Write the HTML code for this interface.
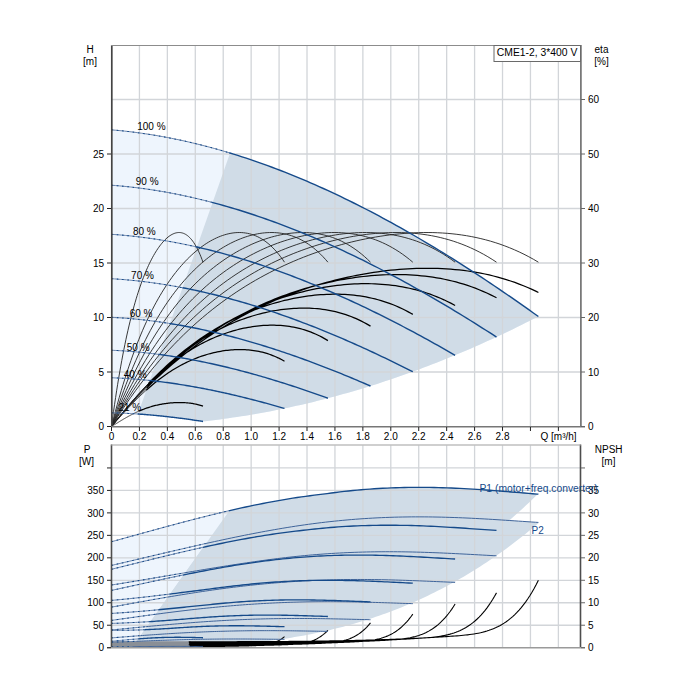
<!DOCTYPE html>
<html><head><meta charset="utf-8"><style>
html,body{margin:0;padding:0;background:#fff;width:700px;height:700px;overflow:hidden;position:relative}
svg text{font-family:"Liberation Sans",sans-serif}
</style></head><body>
<svg width="700" height="700" viewBox="0 0 700 700" style="position:absolute;left:0;top:0">
<rect width="700" height="700" fill="#fff"/>
<path d="M111.50,129.85 L114.37,130.10 L117.23,130.36 L120.10,130.63 L122.96,130.93 L125.83,131.24 L128.69,131.56 L131.56,131.90 L134.42,132.26 L137.29,132.63 L140.15,133.02 L143.02,133.43 L145.88,133.85 L148.75,134.28 L151.61,134.74 L154.48,135.21 L157.34,135.69 L160.21,136.19 L163.07,136.70 L165.94,137.23 L168.80,137.78 L171.67,138.34 L174.53,138.92 L177.40,139.51 L180.26,140.12 L183.13,140.74 L185.99,141.38 L188.86,142.03 L191.72,142.70 L194.59,143.38 L197.45,144.08 L200.32,144.79 L203.18,145.52 L206.05,146.26 L208.91,147.01 L211.78,147.78 L214.64,148.57 L217.51,149.37 L220.37,150.18 L223.24,151.01 L226.10,151.85 L228.97,152.71 L231.83,153.58 L234.70,154.47 L237.56,155.37 L240.43,156.28 L243.29,157.21 L246.16,158.15 L249.02,159.10 L251.89,160.07 L254.76,161.05 L257.62,162.05 L260.49,163.06 L263.35,164.08 L266.22,165.12 L269.08,166.17 L271.95,167.23 L274.81,168.31 L277.68,169.40 L280.54,170.50 L283.41,171.62 L286.27,172.74 L289.14,173.89 L292.00,175.04 L294.87,176.21 L297.73,177.39 L300.60,178.58 L303.46,179.79 L306.33,181.01 L309.19,182.24 L312.06,183.49 L314.92,184.74 L317.79,186.01 L320.65,187.29 L323.52,188.59 L326.38,189.89 L329.25,191.21 L332.11,192.54 L334.98,193.88 L337.84,195.24 L340.71,196.60 L343.57,197.98 L346.44,199.37 L349.30,200.78 L352.17,202.19 L355.03,203.62 L357.90,205.05 L360.76,206.50 L363.63,207.96 L366.49,209.43 L369.36,210.92 L372.22,212.41 L375.09,213.92 L377.95,215.43 L380.82,216.96 L383.68,218.50 L386.55,220.05 L389.41,221.61 L392.28,223.19 L395.14,224.77 L398.01,226.36 L400.88,227.97 L403.74,229.58 L406.61,231.21 L409.47,232.85 L412.34,234.49 L415.20,236.15 L418.07,237.82 L420.93,239.50 L423.80,241.19 L426.66,242.89 L429.53,244.60 L432.39,246.32 L435.26,248.04 L438.12,249.78 L440.99,251.53 L443.85,253.29 L446.72,255.06 L449.58,256.84 L452.45,258.63 L455.31,260.43 L458.18,262.24 L461.04,264.06 L463.91,265.88 L466.77,267.72 L469.64,269.57 L472.50,271.42 L475.37,273.29 L478.23,275.16 L481.10,277.04 L483.96,278.94 L486.83,280.84 L489.69,282.75 L492.56,284.67 L495.42,286.59 L498.29,288.53 L501.15,290.48 L504.02,292.43 L506.88,294.39 L509.75,296.37 L512.61,298.35 L515.48,300.33 L518.34,302.33 L521.21,304.34 L524.07,306.35 L526.94,308.37 L529.80,310.40 L532.67,312.44 L535.53,314.49 L538.40,316.54 L538.40,316.40 L534.15,318.58 L529.91,320.74 L525.66,322.87 L521.42,324.99 L517.17,327.08 L512.93,329.15 L508.68,331.20 L504.44,333.22 L500.19,335.23 L495.94,337.21 L491.70,339.17 L487.45,341.11 L483.21,343.03 L478.96,344.92 L474.72,346.80 L470.47,348.65 L466.23,350.48 L461.98,352.29 L457.73,354.08 L453.49,355.84 L449.24,357.59 L445.00,359.31 L440.75,361.01 L436.51,362.69 L432.26,364.34 L428.02,365.98 L423.77,367.59 L419.52,369.18 L415.28,370.75 L411.03,372.30 L406.79,373.82 L402.54,375.33 L398.30,376.81 L394.05,378.27 L389.81,379.71 L385.56,381.12 L381.31,382.52 L377.07,383.89 L372.82,385.24 L368.58,386.57 L364.33,387.88 L360.09,389.17 L355.84,390.43 L351.59,391.67 L347.35,392.89 L343.10,394.09 L338.86,395.27 L334.61,396.43 L330.37,397.56 L326.12,398.67 L321.88,399.76 L317.63,400.83 L313.38,401.88 L309.14,402.90 L304.89,403.90 L300.65,404.89 L296.40,405.85 L292.16,406.78 L287.91,407.70 L283.67,408.59 L279.42,409.47 L275.17,410.32 L270.93,411.14 L266.68,411.95 L262.44,412.74 L258.19,413.50 L253.95,414.24 L249.70,414.96 L245.46,415.66 L241.21,416.34 L236.96,416.99 L232.72,417.62 L228.47,418.23 L224.23,418.82 L219.98,419.39 L215.74,419.94 L211.49,420.46 L207.25,420.96 L203.00,421.44 L203.00,421.45 L200.65,421.09 L198.31,420.74 L195.96,420.39 L193.62,420.05 L191.27,419.71 L188.92,419.38 L186.58,419.06 L184.23,418.74 L181.88,418.43 L179.54,418.13 L177.19,417.83 L174.85,417.54 L172.50,417.26 L170.15,416.98 L167.81,416.71 L165.46,416.45 L163.12,416.20 L160.77,415.95 L158.42,415.72 L156.08,415.49 L153.73,415.27 L151.38,415.05 L149.04,414.85 L146.69,414.65 L144.35,414.47 L142.00,414.29 L139.65,414.12 L137.31,413.96 L134.96,413.81 L132.62,413.67 L130.27,413.54 L127.92,413.42 L125.58,413.31 L123.23,413.21 L120.88,413.12 L118.54,413.05 L116.19,412.98 L113.85,412.92 L111.50,412.87 Z" fill="#eef5fd"/>
<path d="M230.08,153.05 L232.92,153.92 L235.77,154.80 L238.62,155.70 L241.46,156.61 L244.31,157.54 L247.16,158.48 L250.00,159.43 L252.85,160.40 L255.70,161.38 L258.54,162.37 L261.39,163.38 L264.24,164.40 L267.09,165.43 L269.93,166.48 L272.78,167.54 L275.63,168.62 L278.47,169.70 L281.32,170.80 L284.17,171.91 L287.01,173.04 L289.86,174.18 L292.71,175.33 L295.56,176.49 L298.40,177.67 L301.25,178.86 L304.10,180.06 L306.94,181.27 L309.79,182.50 L312.64,183.74 L315.48,184.99 L318.33,186.25 L321.18,187.53 L324.02,188.82 L326.87,190.12 L329.72,191.43 L332.57,192.75 L335.41,194.09 L338.26,195.44 L341.11,196.80 L343.95,198.17 L346.80,199.55 L349.65,200.94 L352.49,202.35 L355.34,203.77 L358.19,205.20 L361.04,206.64 L363.88,208.09 L366.73,209.55 L369.58,211.03 L372.42,212.51 L375.27,214.01 L378.12,215.52 L380.96,217.04 L383.81,218.57 L386.66,220.11 L389.50,221.66 L392.35,223.22 L395.20,224.80 L398.05,226.38 L400.89,227.98 L403.74,229.58 L406.59,231.20 L409.43,232.82 L412.28,234.46 L415.13,236.11 L417.97,237.77 L420.82,239.43 L423.67,241.11 L426.51,242.80 L429.36,244.50 L432.21,246.21 L435.06,247.92 L437.90,249.65 L440.75,251.39 L443.60,253.14 L446.44,254.89 L449.29,256.66 L452.14,258.44 L454.98,260.22 L457.83,262.02 L460.68,263.82 L463.53,265.64 L466.37,267.46 L469.22,269.30 L472.07,271.14 L474.91,272.99 L477.76,274.85 L480.61,276.72 L483.45,278.60 L486.30,280.49 L489.15,282.38 L491.99,284.29 L494.84,286.20 L497.69,288.13 L500.54,290.06 L503.38,292.00 L506.23,293.95 L509.08,295.90 L511.92,297.87 L514.77,299.84 L517.62,301.82 L520.46,303.82 L523.31,305.81 L526.16,307.82 L529.01,309.84 L531.85,311.86 L534.70,313.89 L537.55,315.93 L538.40,316.54 L538.40,316.40 L534.15,318.58 L529.91,320.74 L525.66,322.87 L521.42,324.99 L517.17,327.08 L512.93,329.15 L508.68,331.20 L504.44,333.22 L500.19,335.23 L495.94,337.21 L491.70,339.17 L487.45,341.11 L483.21,343.03 L478.96,344.92 L474.72,346.80 L470.47,348.65 L466.23,350.48 L461.98,352.29 L457.73,354.08 L453.49,355.84 L449.24,357.59 L445.00,359.31 L440.75,361.01 L436.51,362.69 L432.26,364.34 L428.02,365.98 L423.77,367.59 L419.52,369.18 L415.28,370.75 L411.03,372.30 L406.79,373.82 L402.54,375.33 L398.30,376.81 L394.05,378.27 L389.81,379.71 L385.56,381.12 L381.31,382.52 L377.07,383.89 L372.82,385.24 L368.58,386.57 L364.33,387.88 L360.09,389.17 L355.84,390.43 L351.59,391.67 L347.35,392.89 L343.10,394.09 L338.86,395.27 L334.61,396.43 L330.37,397.56 L326.12,398.67 L321.88,399.76 L317.63,400.83 L313.38,401.88 L309.14,402.90 L304.89,403.90 L300.65,404.89 L296.40,405.85 L292.16,406.78 L287.91,407.70 L283.67,408.59 L279.42,409.47 L275.17,410.32 L270.93,411.14 L266.68,411.95 L262.44,412.74 L258.19,413.50 L253.95,414.24 L249.70,414.96 L245.46,415.66 L241.21,416.34 L236.96,416.99 L232.72,417.62 L228.47,418.23 L224.23,418.82 L219.98,419.39 L215.74,419.94 L211.49,420.46 L207.25,420.96 L203.00,421.44 L203.00,421.45 L199.94,420.98 L196.89,420.53 L193.83,420.08 L190.78,419.64 L187.72,419.22 L184.67,418.80 L181.61,418.40 L178.56,418.00 L175.50,417.62 L172.45,417.25 L169.39,416.89 L166.34,416.55 L163.28,416.22 L160.23,415.90 L157.17,415.59 L154.12,415.30 L151.06,415.02 L148.01,414.76 L144.95,414.51 L141.90,414.28 L137.93,414.00 Z" fill="#d0dce7"/>
<path d="M111.50,541.73 L113.65,541.14 L115.79,540.55 L117.94,539.95 L120.08,539.36 L122.23,538.77 L124.37,538.18 L126.52,537.58 L128.66,536.99 L130.81,536.40 L132.95,535.80 L135.10,535.21 L137.24,534.62 L139.39,534.03 L141.53,533.43 L143.68,532.84 L145.82,532.25 L147.97,531.66 L150.11,531.07 L152.26,530.48 L154.41,529.90 L156.55,529.31 L158.70,528.73 L160.84,528.14 L162.99,527.56 L165.13,526.98 L167.28,526.40 L169.42,525.82 L171.57,525.24 L173.71,524.67 L175.86,524.09 L178.00,523.52 L180.15,522.95 L182.29,522.39 L184.44,521.82 L186.58,521.26 L188.73,520.70 L190.87,520.14 L193.02,519.58 L195.16,519.03 L197.31,518.48 L199.46,517.93 L201.60,517.39 L203.75,516.85 L205.89,516.31 L208.04,515.78 L210.18,515.24 L212.33,514.72 L214.47,514.19 L216.62,513.67 L218.76,513.15 L220.91,512.64 L223.05,512.13 L225.20,511.62 L227.34,511.12 L229.49,510.62 L231.63,510.13 L132.64,646.70 L111.50,646.70 Z" fill="#eef5fd"/>
<path d="M229.49,510.62 L231.63,510.13 L233.78,509.64 L235.92,509.15 L238.07,508.67 L240.21,508.20 L242.36,507.73 L244.50,507.26 L246.65,506.80 L248.80,506.34 L250.94,505.89 L253.09,505.44 L255.23,505.00 L257.38,504.56 L259.52,504.13 L261.67,503.71 L263.81,503.29 L265.96,502.87 L268.10,502.47 L270.25,502.06 L272.39,501.66 L274.54,501.27 L276.68,500.89 L278.83,500.51 L280.97,500.14 L283.12,499.77 L285.26,499.41 L287.41,499.05 L289.55,498.70 L291.70,498.36 L293.84,498.03 L295.99,497.70 L298.14,497.38 L300.28,497.06 L302.43,496.75 L304.57,496.45 L306.72,496.15 L308.86,495.86 L311.01,495.58 L313.15,495.31 L315.30,495.04 L317.44,494.78 L319.59,494.52 L321.73,494.28 L323.88,494.04 L326.02,493.77 L328.17,493.47 L330.31,493.17 L332.46,492.89 L334.60,492.61 L336.75,492.34 L338.89,492.07 L341.04,491.82 L343.18,491.57 L345.33,491.32 L347.48,491.09 L349.62,490.86 L351.77,490.64 L353.91,490.43 L356.06,490.22 L358.20,490.02 L360.35,489.83 L362.49,489.65 L364.64,489.47 L366.78,489.30 L368.93,489.14 L371.07,488.99 L373.22,488.84 L375.36,488.70 L377.51,488.57 L379.65,488.44 L381.80,488.32 L383.94,488.21 L386.09,488.10 L388.23,488.01 L390.38,487.92 L392.52,487.83 L394.67,487.76 L396.82,487.69 L398.96,487.62 L401.11,487.57 L403.25,487.52 L405.40,487.47 L407.54,487.44 L409.69,487.41 L411.83,487.39 L413.98,487.37 L416.12,487.36 L418.27,487.36 L420.41,487.36 L422.56,487.37 L424.70,487.38 L426.85,487.40 L428.99,487.43 L431.14,487.46 L433.28,487.50 L435.43,487.54 L437.57,487.59 L439.72,487.65 L441.87,487.71 L444.01,487.78 L446.16,487.85 L448.30,487.93 L450.45,488.01 L452.59,488.10 L454.74,488.19 L456.88,488.28 L459.03,488.39 L461.17,488.49 L463.32,488.60 L465.46,488.72 L467.61,488.84 L469.75,488.96 L471.90,489.09 L474.04,489.22 L476.19,489.35 L478.33,489.49 L480.48,489.63 L482.62,489.78 L484.77,489.93 L486.91,490.08 L489.06,490.23 L491.21,490.39 L493.35,490.55 L495.50,490.71 L497.64,490.88 L499.79,491.04 L501.93,491.21 L504.08,491.38 L506.22,491.55 L508.37,491.73 L510.51,491.90 L512.66,492.08 L514.80,492.25 L516.95,492.43 L519.09,492.61 L521.24,492.79 L523.38,492.96 L525.53,493.14 L527.67,493.32 L529.82,493.49 L531.96,493.67 L534.11,493.84 L536.25,494.01 L538.40,494.18 L538.40,493.61 L535.32,496.60 L532.23,499.55 L529.15,502.46 L526.07,505.34 L522.98,508.18 L519.90,510.98 L516.82,513.75 L513.73,516.48 L510.65,519.18 L507.57,521.84 L504.48,524.47 L501.40,527.07 L498.32,529.62 L495.24,532.15 L492.15,534.64 L489.07,537.09 L485.99,539.51 L482.90,541.90 L479.82,544.26 L476.74,546.58 L473.65,548.87 L470.57,551.12 L467.49,553.35 L464.40,555.54 L461.32,557.69 L458.24,559.82 L455.15,561.91 L452.07,563.98 L448.99,566.01 L445.90,568.01 L442.82,569.97 L439.74,571.91 L436.65,573.82 L433.57,575.69 L430.49,577.54 L427.41,579.36 L424.32,581.14 L421.24,582.90 L418.16,584.63 L415.07,586.32 L411.99,587.99 L408.91,589.63 L405.82,591.24 L402.74,592.83 L399.66,594.38 L396.57,595.91 L393.49,597.41 L390.41,598.88 L387.32,600.32 L384.24,601.74 L381.16,603.13 L378.07,604.49 L374.99,605.82 L371.91,607.13 L368.82,608.42 L365.74,609.68 L362.66,610.91 L359.57,612.12 L356.49,613.30 L353.41,614.45 L350.33,615.58 L347.24,616.69 L344.16,617.77 L341.08,618.83 L337.99,619.87 L334.91,620.88 L331.83,621.87 L328.74,622.83 L325.66,623.77 L322.58,624.69 L319.49,625.59 L316.41,626.46 L313.33,627.31 L310.24,628.14 L307.16,628.95 L304.08,629.74 L300.99,630.51 L297.91,631.25 L294.83,631.97 L291.74,632.68 L288.66,633.36 L285.58,634.03 L282.49,634.67 L279.41,635.29 L276.33,635.90 L273.25,636.49 L270.16,637.05 L267.08,637.60 L264.00,638.13 L260.91,638.65 L257.83,639.14 L254.75,639.62 L251.66,640.08 L248.58,640.53 L245.50,640.95 L242.41,641.36 L239.33,641.76 L236.25,642.14 L233.16,642.50 L230.08,642.85 L227.00,643.18 L223.91,643.50 L220.83,643.81 L217.75,644.09 L214.66,644.37 L211.58,644.63 L208.50,644.88 L205.42,645.12 L202.33,645.34 L199.25,645.55 L196.17,645.75 L193.08,645.93 L190.00,646.11 L186.92,646.27 L183.83,646.42 L180.75,646.56 L177.67,646.70 L174.58,646.82 L171.50,646.93 L131.93,647.70 Z" fill="#d0dce7"/>
<path d="M205.89,543.50 L208.04,543.02 L210.18,542.55 L212.33,542.07 L214.47,541.60 L216.62,541.14 L218.76,540.67 L220.91,540.21 L223.05,539.75 L225.20,539.29 L227.34,538.83 L229.49,538.38 L231.63,537.93 L233.78,537.49 L235.92,537.04 L238.07,536.60 L240.21,536.16 L242.36,535.73 L244.50,535.30 L246.65,534.87 L248.80,534.45 L250.94,534.03 L253.09,533.61 L255.23,533.20 L257.38,532.79 L259.52,532.38 L261.67,531.98 L263.81,531.58 L265.96,531.19 L268.10,530.80 L270.25,530.41 L272.39,530.03 L274.54,529.65 L276.68,529.28 L278.83,528.91 L280.97,528.54 L283.12,528.18 L285.26,527.83 L287.41,527.47 L289.55,527.13 L291.70,526.79 L293.84,526.45 L295.99,526.13 L298.14,525.80 L300.28,525.48 L302.43,525.17 L304.57,524.86 L306.72,524.56 L308.86,524.26 L311.01,523.97 L313.15,523.69 L315.30,523.41 L317.44,523.13 L319.59,522.86 L321.73,522.60 L323.88,522.35 L326.02,522.09 L328.17,521.85 L330.31,521.61 L332.46,521.38 L334.60,521.15 L336.75,520.93 L338.89,520.71 L341.04,520.50 L343.18,520.30 L345.33,520.10 L347.48,519.91 L349.62,519.72 L351.77,519.54 L353.91,519.37 L356.06,519.20 L358.20,519.04 L360.35,518.88 L362.49,518.73 L364.64,518.59 L366.78,518.45 L368.93,518.32 L371.07,518.19 L373.22,518.07 L375.36,517.96 L377.51,517.85 L379.65,517.75 L381.80,517.65 L383.94,517.56 L386.09,517.47 L388.23,517.39 L390.38,517.32 L392.52,517.25 L394.67,517.19 L396.82,517.13 L398.96,517.08 L401.11,517.03 L403.25,516.99 L405.40,516.96 L407.54,516.93 L409.69,516.91 L411.83,516.89 L413.98,516.87 L416.12,516.87 L418.27,516.86 L420.41,516.86 L422.56,516.87 L424.70,516.88 L426.85,516.90 L428.99,516.92 L431.14,516.95 L433.28,516.98 L435.43,517.02 L437.57,517.06 L439.72,517.10 L441.87,517.15 L444.01,517.21 L446.16,517.27 L448.30,517.33 L450.45,517.39 L452.59,517.47 L454.74,517.54 L456.88,517.62 L459.03,517.70 L461.17,517.79 L463.32,517.88 L465.46,517.97 L467.61,518.07 L469.75,518.17 L471.90,518.27 L474.04,518.38 L476.19,518.49 L478.33,518.60 L480.48,518.72 L482.62,518.84 L484.77,518.96 L486.91,519.08 L489.06,519.21 L491.21,519.34 L493.35,519.47 L495.50,519.60 L497.64,519.74 L499.79,519.87 L501.93,520.01 L504.08,520.15 L506.22,520.29 L508.37,520.43 L510.51,520.57 L512.66,520.72 L514.80,520.86 L516.95,521.00 L519.09,521.15 L521.24,521.29 L523.38,521.44 L525.53,521.58 L527.67,521.73 L529.82,521.87 L531.96,522.01 L534.11,522.15 L536.25,522.29 L538.40,522.43 L538.40,523.26 L535.15,526.00 L531.90,528.70 L528.65,531.36 L525.39,533.97 L522.14,536.55 L518.89,539.10 L515.64,541.60 L512.39,544.06 L509.14,546.49 L505.89,548.88 L502.64,551.23 L499.38,553.55 L496.13,555.83 L492.88,558.07 L489.63,560.27 L486.38,562.44 L483.13,564.58 L479.88,566.67 L476.63,568.74 L473.37,570.77 L470.12,572.76 L466.87,574.72 L463.62,576.65 L460.37,578.54 L457.12,580.40 L453.87,582.22 L450.62,584.02 L447.36,585.78 L444.11,587.51 L440.86,589.20 L437.61,590.87 L434.36,592.50 L431.11,594.10 L427.86,595.67 L424.61,597.21 L421.35,598.72 L418.10,600.21 L414.85,601.66 L411.60,603.08 L408.35,604.47 L405.10,605.83 L401.85,607.17 L398.60,608.47 L395.34,609.75 L392.09,611.00 L388.84,612.23 L385.59,613.42 L382.34,614.59 L379.09,615.74 L375.84,616.85 L372.59,617.95 L369.33,619.01 L366.08,620.05 L362.83,621.07 L359.58,622.06 L356.33,623.02 L353.08,623.96 L349.83,624.88 L346.58,625.78 L343.32,626.65 L340.07,627.49 L336.82,628.32 L333.57,629.12 L330.32,629.90 L327.07,630.66 L323.82,631.40 L320.57,632.11 L317.31,632.81 L314.06,633.48 L310.81,634.14 L307.56,634.77 L304.31,635.39 L301.06,635.98 L297.81,636.56 L294.56,637.11 L291.30,637.65 L288.05,638.17 L284.80,638.67 L281.55,639.16 L278.30,639.62 L275.05,640.07 L271.80,640.50 L268.55,640.92 L265.29,641.32 L262.04,641.71 L258.79,642.08 L255.54,642.43 L252.29,642.77 L249.04,643.09 L245.79,643.40 L242.54,643.70 L239.28,643.98 L236.03,644.25 L232.78,644.50 L229.53,644.75 L226.28,644.98 L223.03,645.20 L219.78,645.40 L216.53,645.60 L213.27,645.78 L210.02,645.95 L206.77,646.12 L203.52,646.27 L200.27,646.41 L197.02,646.54 L193.77,646.67 L190.52,646.78 L187.26,646.89 L184.01,646.98 L180.76,647.07 L177.51,647.16 L174.26,647.23 L171.01,647.30 L167.76,647.36 L164.51,647.41 L161.25,647.46 L158.00,647.50 L154.75,647.54 L151.50,647.57 L131.93,647.70 Z" fill="#d0dce7"/>
<path d="M139.43,46 V426 M139.43,445.5 V647 M167.36,46 V426 M167.36,445.5 V647 M195.29,46 V426 M195.29,445.5 V647 M223.22,46 V426 M223.22,445.5 V647 M251.15,46 V426 M251.15,445.5 V647 M279.08,46 V426 M279.08,445.5 V647 M307.01,46 V426 M307.01,445.5 V647 M334.94,46 V426 M334.94,445.5 V647 M362.87,46 V426 M362.87,445.5 V647 M390.80,46 V426 M390.80,445.5 V647 M418.73,46 V426 M418.73,445.5 V647 M446.66,46 V426 M446.66,445.5 V647 M474.59,46 V426 M474.59,445.5 V647 M502.52,46 V426 M502.52,445.5 V647 M530.45,46 V426 M530.45,445.5 V647 M558.38,46 V426 M558.38,445.5 V647 M112,372.00 H580 M112,317.50 H580 M112,263.00 H580 M112,208.50 H580 M112,154.00 H580 M112,99.50 H580 M112,625.23 H580 M112,602.76 H580 M112,580.29 H580 M112,557.82 H580 M112,535.35 H580 M112,512.88 H580 M112,490.41 H580 M112,467.94 H580" stroke="#d2d5d9" stroke-width="1.3" fill="none"/>
<path d="M111.50,426.50 L116.30,418.87 L121.09,411.48 L125.89,404.34 L130.69,397.42 L135.48,390.74 L140.28,384.28 L145.08,378.03 L149.87,371.98 L154.67,366.14 L159.47,360.50 L164.26,355.04 L169.06,349.76 L173.86,344.67 L178.65,339.74 L183.45,334.98 L188.25,330.38 L193.04,325.94 L197.84,321.65 L202.64,317.50 L207.43,313.50 L212.23,309.64 L217.03,305.90 L221.82,302.30 L226.62,298.82 L231.42,295.46 L236.21,292.21 L241.01,289.08 L245.81,286.06 L250.60,283.15 L255.40,280.34 L260.20,277.63 L264.99,275.01 L269.79,272.49 L274.59,270.06 L279.38,267.72 L284.18,265.47 L288.98,263.30 L293.77,261.21 L298.57,259.20 L303.37,257.28 L308.16,255.43 L312.96,253.65 L317.76,251.95 L322.55,250.33 L327.35,248.77 L332.14,247.29 L336.94,245.88 L341.74,244.53 L346.53,243.26 L351.33,242.06 L356.13,240.92 L360.92,239.85 L365.72,238.86 L370.52,237.93 L375.31,237.07 L380.11,236.29 L384.91,235.57 L389.70,234.93 L394.50,234.36 L399.30,233.86 L404.09,233.44 L408.89,233.10 L413.69,232.83 L418.48,232.65 L423.28,232.54 L428.08,232.52 L432.87,232.59 L437.67,232.75 L442.47,233.00 L447.26,233.34 L452.06,233.78 L456.86,234.32 L461.65,234.96 L466.45,235.70 L471.25,236.56 L476.04,237.52 L480.84,238.61 L485.64,239.81 L490.43,241.14 L495.23,242.60 L500.03,244.18 L504.82,245.91 L509.62,247.77 L514.42,249.79 L519.21,251.95 L524.01,254.26 L528.81,256.74 L533.60,259.39 L538.40,262.20 M111.50,426.50 L113.64,423.93 L115.78,421.39 L117.92,418.87 L120.06,416.39 L122.20,413.93 L124.34,411.50 L126.48,409.11 L128.62,406.73 L130.76,404.39 L132.90,402.08 L135.04,399.79 L137.18,397.53 L139.32,395.30 L141.46,393.09 L143.60,390.92 L145.74,388.76 L147.88,386.64 M111.50,426.50 L115.83,418.87 L120.15,411.48 L124.48,404.34 L128.80,397.42 L133.13,390.74 L137.46,384.28 L141.78,378.03 L146.11,371.98 L150.43,366.14 L154.76,360.50 L159.08,355.04 L163.41,349.76 L167.74,344.67 L172.06,339.74 L176.39,334.98 L180.71,330.38 L185.04,325.94 L189.37,321.65 L193.69,317.50 L198.02,313.50 L202.34,309.64 L206.67,305.90 L210.99,302.30 L215.32,298.82 L219.65,295.46 L223.97,292.21 L228.30,289.08 L232.62,286.06 L236.95,283.15 L241.28,280.34 L245.60,277.63 L249.93,275.01 L254.25,272.49 L258.58,270.06 L262.90,267.72 L267.23,265.47 L271.56,263.30 L275.88,261.21 L280.21,259.20 L284.53,257.28 L288.86,255.43 L293.19,253.65 L297.51,251.95 L301.84,250.33 L306.16,248.77 L310.49,247.29 L314.81,245.88 L319.14,244.53 L323.47,243.26 L327.79,242.06 L332.12,240.92 L336.44,239.85 L340.77,238.86 L345.10,237.93 L349.42,237.07 L353.75,236.29 L358.07,235.57 L362.40,234.93 L366.72,234.36 L371.05,233.86 L375.38,233.44 L379.70,233.10 L384.03,232.83 L388.35,232.65 L392.68,232.54 L397.01,232.52 L401.33,232.59 L405.66,232.75 L409.98,233.00 L414.31,233.34 L418.63,233.78 L422.96,234.32 L427.29,234.96 L431.61,235.70 L435.94,236.56 L440.26,237.52 L444.59,238.61 L448.92,239.81 L453.24,241.14 L457.57,242.60 L461.89,244.18 L466.22,245.91 L470.54,247.77 L474.87,249.79 L479.20,251.95 L483.52,254.26 L487.85,256.74 L492.17,259.39 L496.50,262.20 M111.50,426.50 L113.43,424.12 L115.36,421.76 L117.29,419.42 L119.22,417.11 L121.15,414.83 L123.08,412.56 L125.01,410.32 L126.94,408.11 L128.87,405.91 L130.80,403.74 L132.73,401.60 L134.66,399.47 L136.59,397.37 L138.52,395.30 L140.45,393.24 L142.38,391.21 L144.31,389.20 L146.24,387.22 L148.17,385.25 M111.50,426.50 L115.36,418.87 L119.22,411.48 L123.08,404.34 L126.94,397.42 L130.80,390.74 L134.66,384.28 L138.52,378.03 L142.39,371.98 L146.25,366.14 L150.11,360.50 L153.97,355.04 L157.83,349.76 L161.69,344.67 L165.55,339.74 L169.41,334.98 L173.27,330.38 L177.13,325.94 L180.99,321.65 L184.85,317.50 L188.71,313.50 L192.57,309.64 L196.43,305.90 L200.30,302.30 L204.16,298.82 L208.02,295.46 L211.88,292.21 L215.74,289.08 L219.60,286.06 L223.46,283.15 L227.32,280.34 L231.18,277.63 L235.04,275.01 L238.90,272.49 L242.76,270.06 L246.62,267.72 L250.48,265.47 L254.34,263.30 L258.21,261.21 L262.07,259.20 L265.93,257.28 L269.79,255.43 L273.65,253.65 L277.51,251.95 L281.37,250.33 L285.23,248.77 L289.09,247.29 L292.95,245.88 L296.81,244.53 L300.67,243.26 L304.53,242.06 L308.39,240.92 L312.26,239.85 L316.12,238.86 L319.98,237.93 L323.84,237.07 L327.70,236.29 L331.56,235.57 L335.42,234.93 L339.28,234.36 L343.14,233.86 L347.00,233.44 L350.86,233.10 L354.72,232.83 L358.58,232.65 L362.44,232.54 L366.30,232.52 L370.17,232.59 L374.03,232.75 L377.89,233.00 L381.75,233.34 L385.61,233.78 L389.47,234.32 L393.33,234.96 L397.19,235.70 L401.05,236.56 L404.91,237.52 L408.77,238.61 L412.63,239.81 L416.49,241.14 L420.35,242.60 L424.21,244.18 L428.08,245.91 L431.94,247.77 L435.80,249.79 L439.66,251.95 L443.52,254.26 L447.38,256.74 L451.24,259.39 L455.10,262.20 M111.50,426.50 L113.22,424.34 L114.94,422.20 L116.67,420.08 L118.39,417.98 L120.11,415.89 L121.83,413.83 L123.56,411.78 L125.28,409.75 L127.00,407.74 L128.72,405.75 L130.45,403.78 L132.17,401.83 L133.89,399.89 L135.61,397.98 L137.33,396.08 L139.06,394.20 L140.78,392.34 L142.50,390.50 L144.22,388.68 L145.95,386.88 L147.67,385.10 M111.50,426.50 L114.89,418.87 L118.27,411.48 L121.66,404.34 L125.04,397.42 L128.43,390.74 L131.81,384.28 L135.20,378.03 L138.58,371.98 L141.97,366.14 L145.35,360.50 L148.74,355.04 L152.12,349.76 L155.51,344.67 L158.90,339.74 L162.28,334.98 L165.67,330.38 L169.05,325.94 L172.44,321.65 L175.82,317.50 L179.21,313.50 L182.59,309.64 L185.98,305.90 L189.36,302.30 L192.75,298.82 L196.13,295.46 L199.52,292.21 L202.91,289.08 L206.29,286.06 L209.68,283.15 L213.06,280.34 L216.45,277.63 L219.83,275.01 L223.22,272.49 L226.60,270.06 L229.99,267.72 L233.37,265.47 L236.76,263.30 L240.14,261.21 L243.53,259.20 L246.92,257.28 L250.30,255.43 L253.69,253.65 L257.07,251.95 L260.46,250.33 L263.84,248.77 L267.23,247.29 L270.61,245.88 L274.00,244.53 L277.38,243.26 L280.77,242.06 L284.16,240.92 L287.54,239.85 L290.93,238.86 L294.31,237.93 L297.70,237.07 L301.08,236.29 L304.47,235.57 L307.85,234.93 L311.24,234.36 L314.62,233.86 L318.01,233.44 L321.39,233.10 L324.78,232.83 L328.17,232.65 L331.55,232.54 L334.94,232.52 L338.32,232.59 L341.71,232.75 L345.09,233.00 L348.48,233.34 L351.86,233.78 L355.25,234.32 L358.63,234.96 L362.02,235.70 L365.40,236.56 L368.79,237.52 L372.18,238.61 L375.56,239.81 L378.95,241.14 L382.33,242.60 L385.72,244.18 L389.10,245.91 L392.49,247.77 L395.87,249.79 L399.26,251.95 L402.64,254.26 L406.03,256.74 L409.41,259.39 L412.80,262.20 M111.50,426.50 L113.01,424.58 L114.52,422.67 L116.03,420.77 L117.54,418.89 L119.05,417.02 L120.56,415.16 L122.07,413.32 L123.58,411.50 L125.09,409.68 L126.60,407.89 L128.11,406.10 L129.62,404.33 L131.13,402.58 L132.64,400.84 L134.15,399.12 L135.66,397.41 L137.17,395.71 L138.68,394.03 L140.20,392.37 L141.71,390.72 L143.22,389.09 L144.73,387.47 L146.24,385.87 L147.75,384.29 L149.26,382.72 M111.50,426.50 L114.41,418.87 L117.32,411.48 L120.23,404.34 L123.14,397.42 L126.05,390.74 L128.96,384.28 L131.87,378.03 L134.78,371.98 L137.69,366.14 L140.60,360.50 L143.51,355.04 L146.42,349.76 L149.33,344.67 L152.24,339.74 L155.15,334.98 L158.06,330.38 L160.97,325.94 L163.88,321.65 L166.79,317.50 L169.70,313.50 L172.61,309.64 L175.52,305.90 L178.43,302.30 L181.34,298.82 L184.25,295.46 L187.16,292.21 L190.07,289.08 L192.98,286.06 L195.89,283.15 L198.80,280.34 L201.71,277.63 L204.62,275.01 L207.53,272.49 L210.44,270.06 L213.35,267.72 L216.26,265.47 L219.17,263.30 L222.08,261.21 L224.99,259.20 L227.90,257.28 L230.81,255.43 L233.72,253.65 L236.63,251.95 L239.54,250.33 L242.46,248.77 L245.37,247.29 L248.28,245.88 L251.19,244.53 L254.10,243.26 L257.01,242.06 L259.92,240.92 L262.83,239.85 L265.74,238.86 L268.65,237.93 L271.56,237.07 L274.47,236.29 L277.38,235.57 L280.29,234.93 L283.20,234.36 L286.11,233.86 L289.02,233.44 L291.93,233.10 L294.84,232.83 L297.75,232.65 L300.66,232.54 L303.57,232.52 L306.48,232.59 L309.39,232.75 L312.30,233.00 L315.21,233.34 L318.12,233.78 L321.03,234.32 L323.94,234.96 L326.85,235.70 L329.76,236.56 L332.67,237.52 L335.58,238.61 L338.49,239.81 L341.40,241.14 L344.31,242.60 L347.22,244.18 L350.13,245.91 L353.04,247.77 L355.95,249.79 L358.86,251.95 L361.77,254.26 L364.68,256.74 L367.59,259.39 L370.50,262.20 M111.50,426.50 L112.80,424.85 L114.10,423.20 L115.39,421.57 L116.69,419.94 L117.99,418.33 L119.29,416.72 L120.59,415.12 L121.89,413.53 L123.18,411.95 L124.48,410.39 L125.78,408.83 L127.08,407.28 L128.38,405.75 L129.68,404.22 L130.97,402.71 L132.27,401.21 L133.57,399.71 L134.87,398.24 L136.17,396.77 L137.46,395.31 L138.76,393.87 L140.06,392.44 L141.36,391.02 L142.66,389.61 L143.96,388.22 L145.25,386.84 L146.55,385.47 L147.85,384.11 L149.15,382.77 M111.50,426.50 L113.93,418.87 L116.36,411.48 L118.79,404.34 L121.23,397.42 L123.66,390.74 L126.09,384.28 L128.52,378.03 L130.95,371.98 L133.38,366.14 L135.81,360.50 L138.25,355.04 L140.68,349.76 L143.11,344.67 L145.54,339.74 L147.97,334.98 L150.40,330.38 L152.83,325.94 L155.27,321.65 L157.70,317.50 L160.13,313.50 L162.56,309.64 L164.99,305.90 L167.42,302.30 L169.86,298.82 L172.29,295.46 L174.72,292.21 L177.15,289.08 L179.58,286.06 L182.01,283.15 L184.44,280.34 L186.88,277.63 L189.31,275.01 L191.74,272.49 L194.17,270.06 L196.60,267.72 L199.03,265.47 L201.46,263.30 L203.90,261.21 L206.33,259.20 L208.76,257.28 L211.19,255.43 L213.62,253.65 L216.05,251.95 L218.48,250.33 L220.92,248.77 L223.35,247.29 L225.78,245.88 L228.21,244.53 L230.64,243.26 L233.07,242.06 L235.50,240.92 L237.94,239.85 L240.37,238.86 L242.80,237.93 L245.23,237.07 L247.66,236.29 L250.09,235.57 L252.52,234.93 L254.96,234.36 L257.39,233.86 L259.82,233.44 L262.25,233.10 L264.68,232.83 L267.11,232.65 L269.54,232.54 L271.98,232.52 L274.41,232.59 L276.84,232.75 L279.27,233.00 L281.70,233.34 L284.13,233.78 L286.57,234.32 L289.00,234.96 L291.43,235.70 L293.86,236.56 L296.29,237.52 L298.72,238.61 L301.15,239.81 L303.59,241.14 L306.02,242.60 L308.45,244.18 L310.88,245.91 L313.31,247.77 L315.74,249.79 L318.17,251.95 L320.61,254.26 L323.04,256.74 L325.47,259.39 L327.90,262.20 M111.50,426.50 L112.58,425.15 L113.67,423.80 L114.75,422.45 L115.84,421.11 L116.92,419.77 L118.01,418.44 L119.09,417.12 L120.18,415.80 L121.26,414.49 L122.35,413.18 L123.43,411.88 L124.52,410.59 L125.60,409.31 L126.69,408.03 L127.77,406.76 L128.86,405.50 L129.94,404.24 L131.02,403.00 L132.11,401.76 L133.19,400.53 L134.28,399.31 L135.36,398.10 L136.45,396.90 L137.53,395.71 L138.62,394.52 L139.70,393.35 L140.79,392.18 L141.87,391.03 L142.96,389.88 L144.04,388.75 L145.13,387.62 L146.21,386.51 L147.30,385.40 L148.38,384.31 M111.50,426.50 L113.44,418.87 L115.39,411.48 L117.33,404.34 L119.28,397.42 L121.22,390.74 L123.16,384.28 L125.11,378.03 L127.05,371.98 L128.99,366.14 L130.94,360.50 L132.88,355.04 L134.83,349.76 L136.77,344.67 L138.71,339.74 L140.66,334.98 L142.60,330.38 L144.54,325.94 L146.49,321.65 L148.43,317.50 L150.38,313.50 L152.32,309.64 L154.26,305.90 L156.21,302.30 L158.15,298.82 L160.10,295.46 L162.04,292.21 L163.98,289.08 L165.93,286.06 L167.87,283.15 L169.81,280.34 L171.76,277.63 L173.70,275.01 L175.65,272.49 L177.59,270.06 L179.53,267.72 L181.48,265.47 L183.42,263.30 L185.37,261.21 L187.31,259.20 L189.25,257.28 L191.20,255.43 L193.14,253.65 L195.08,251.95 L197.03,250.33 L198.97,248.77 L200.92,247.29 L202.86,245.88 L204.80,244.53 L206.75,243.26 L208.69,242.06 L210.63,240.92 L212.58,239.85 L214.52,238.86 L216.47,237.93 L218.41,237.07 L220.35,236.29 L222.30,235.57 L224.24,234.93 L226.19,234.36 L228.13,233.86 L230.07,233.44 L232.02,233.10 L233.96,232.83 L235.90,232.65 L237.85,232.54 L239.79,232.52 L241.74,232.59 L243.68,232.75 L245.62,233.00 L247.57,233.34 L249.51,233.78 L251.46,234.32 L253.40,234.96 L255.34,235.70 L257.29,236.56 L259.23,237.52 L261.17,238.61 L263.12,239.81 L265.06,241.14 L267.01,242.60 L268.95,244.18 L270.89,245.91 L272.84,247.77 L274.78,249.79 L276.72,251.95 L278.67,254.26 L280.61,256.74 L282.56,259.39 L284.50,262.20 M111.50,426.50 L112.37,425.52 L113.23,424.54 L114.10,423.56 L114.97,422.58 L115.84,421.60 L116.70,420.62 L117.57,419.65 L118.44,418.68 L119.30,417.71 L120.17,416.75 L121.04,415.79 L121.91,414.83 L122.77,413.88 L123.64,412.93 L124.51,411.99 L125.37,411.05 L126.24,410.11 L127.11,409.18 L127.98,408.26 L128.84,407.34 L129.71,406.42 L130.58,405.51 L131.44,404.61 L132.31,403.71 L133.18,402.82 L134.05,401.93 L134.91,401.06 L135.78,400.18 L136.65,399.32 L137.52,398.46 L138.38,397.61 L139.25,396.76 L140.12,395.92 L140.98,395.09 L141.85,394.27 L142.72,393.45 L143.59,392.64 L144.45,391.84 L145.32,391.04 L146.19,390.26 M111.50,426.50 L112.53,418.87 L113.56,411.48 L114.58,404.34 L115.61,397.42 L116.64,390.74 L117.67,384.28 L118.70,378.03 L119.72,371.98 L120.75,366.14 L121.78,360.50 L122.81,355.04 L123.84,349.76 L124.87,344.67 L125.89,339.74 L126.92,334.98 L127.95,330.38 L128.98,325.94 L130.01,321.65 L131.03,317.50 L132.06,313.50 L133.09,309.64 L134.12,305.90 L135.15,302.30 L136.17,298.82 L137.20,295.46 L138.23,292.21 L139.26,289.08 L140.29,286.06 L141.31,283.15 L142.34,280.34 L143.37,277.63 L144.40,275.01 L145.43,272.49 L146.46,270.06 L147.48,267.72 L148.51,265.47 L149.54,263.30 L150.57,261.21 L151.60,259.20 L152.62,257.28 L153.65,255.43 L154.68,253.65 L155.71,251.95 L156.74,250.33 L157.76,248.77 L158.79,247.29 L159.82,245.88 L160.85,244.53 L161.88,243.26 L162.90,242.06 L163.93,240.92 L164.96,239.85 L165.99,238.86 L167.02,237.93 L168.04,237.07 L169.07,236.29 L170.10,235.57 L171.13,234.93 L172.16,234.36 L173.19,233.86 L174.21,233.44 L175.24,233.10 L176.27,232.83 L177.30,232.65 L178.33,232.54 L179.35,232.52 L180.38,232.59 L181.41,232.75 L182.44,233.00 L183.47,233.34 L184.49,233.78 L185.52,234.32 L186.55,234.96 L187.58,235.70 L188.61,236.56 L189.63,237.52 L190.66,238.61 L191.69,239.81 L192.72,241.14 L193.75,242.60 L194.78,244.18 L195.80,245.91 L196.83,247.77 L197.86,249.79 L198.89,251.95 L199.92,254.26 L200.94,256.74 L201.97,259.39 L203.00,262.20 M111.50,426.50 L111.96,426.22 L112.42,425.94 L112.88,425.66 L113.33,425.38 L113.79,425.09 L114.25,424.81 L114.71,424.53 L115.17,424.24 L115.63,423.96 L116.09,423.67 L116.55,423.39 L117.00,423.11 L117.46,422.82 L117.92,422.54 L118.38,422.26 L118.84,421.97 L119.30,421.69 L119.76,421.41 L120.21,421.13 L120.67,420.85 L121.13,420.57 L121.59,420.30 L122.05,420.02 L122.51,419.75 L122.97,419.47 L123.42,419.20 L123.88,418.93 L124.34,418.66 L124.80,418.39 L125.26,418.13 L125.72,417.86 L126.18,417.60 L126.64,417.34 L127.09,417.08 L127.55,416.82 L128.01,416.57 L128.47,416.31 L128.93,416.06 L129.39,415.81 L129.85,415.56 L130.30,415.32 L130.76,415.08 L131.22,414.83 L131.68,414.60 L132.14,414.36 L132.60,414.12 L133.06,413.89 L133.52,413.66 L133.97,413.43 L134.43,413.21 L134.89,412.99 L135.35,412.77 L135.81,412.55 L136.27,412.33 L136.73,412.12 L137.18,411.91 L137.64,411.70 L138.10,411.49 L138.56,411.29 L139.02,411.09" stroke="#222" stroke-width="0.9" fill="none"/>
<path d="M146.81,387.70 146.81,387.70 L151.09,383.50 L155.37,379.41 L159.65,375.42 L163.93,371.52 L168.21,367.73 L172.49,364.04 L176.77,360.44 L181.05,356.93 L185.32,353.52 L189.60,350.19 L193.88,346.96 L198.16,343.81 L202.44,340.75 L206.72,337.77 L211.00,334.87 L215.28,332.06 L219.56,329.32 L223.84,326.66 L228.12,324.08 L232.40,321.57 L236.68,319.13 L240.96,316.76 L245.24,314.46 L249.52,312.24 L253.80,310.07 L258.08,307.98 L262.36,305.95 L266.64,303.98 L270.92,302.07 L275.20,300.22 L279.48,298.44 L283.76,296.71 L288.04,295.03 L292.32,293.42 L296.60,291.86 L300.88,290.35 L305.16,288.90 L309.44,287.49 L313.72,286.15 L318.00,284.85 L322.28,283.60 L326.55,282.40 L330.83,281.25 L335.11,280.16 L339.39,279.10 L343.67,278.10 L347.95,277.15 L352.23,276.24 L356.51,275.38 L360.79,274.57 L365.07,273.81 L369.35,273.09 L373.63,272.42 L377.91,271.80 L382.19,271.23 L386.47,270.70 L390.75,270.23 L395.03,269.80 L399.31,269.43 L403.59,269.10 L407.87,268.83 L412.15,268.61 L416.43,268.44 L420.71,268.33 L424.99,268.27 L429.27,268.27 L433.55,268.32 L437.83,268.44 L442.11,268.61 L446.39,268.84 L450.67,269.14 L454.95,269.51 L459.23,269.94 L463.51,270.43 L467.78,271.00 L472.06,271.64 L476.34,272.36 L480.62,273.14 L484.90,274.01 L489.18,274.96 L493.46,275.99 L497.74,277.10 L502.02,278.31 L506.30,279.60 L510.58,280.98 L514.86,282.46 L519.14,284.04 L523.42,285.72 L527.70,287.50 L531.98,289.39 L536.26,291.39 L538.40,292.44 M147.20,386.23 147.20,386.23 L151.06,382.35 L154.92,378.56 L158.78,374.85 L162.64,371.24 L166.50,367.71 L170.36,364.26 L174.22,360.90 L178.08,357.62 L181.94,354.42 L185.80,351.31 L189.66,348.27 L193.52,345.31 L197.38,342.43 L201.24,339.63 L205.10,336.90 L208.96,334.24 L212.82,331.66 L216.68,329.14 L220.54,326.70 L224.39,324.33 L228.25,322.02 L232.11,319.78 L235.97,317.60 L239.83,315.49 L243.69,313.45 L247.55,311.46 L251.41,309.53 L255.27,307.67 L259.13,305.86 L262.99,304.11 L266.85,302.42 L270.71,300.78 L274.57,299.20 L278.43,297.67 L282.29,296.19 L286.15,294.77 L290.01,293.40 L293.87,292.07 L297.73,290.80 L301.59,289.58 L305.45,288.41 L309.31,287.29 L313.17,286.21 L317.03,285.18 L320.89,284.20 L324.75,283.27 L328.61,282.38 L332.46,281.54 L336.32,280.75 L340.18,280.00 L344.04,279.30 L347.90,278.65 L351.76,278.04 L355.62,277.48 L359.48,276.97 L363.34,276.50 L367.20,276.09 L371.06,275.72 L374.92,275.40 L378.78,275.14 L382.64,274.92 L386.50,274.75 L390.36,274.64 L394.22,274.58 L398.08,274.58 L401.94,274.63 L405.80,274.74 L409.66,274.90 L413.52,275.13 L417.38,275.41 L421.24,275.76 L425.10,276.17 L428.96,276.65 L432.82,277.19 L436.68,277.81 L440.54,278.49 L444.39,279.25 L448.25,280.08 L452.11,280.99 L455.97,281.98 L459.83,283.05 L463.69,284.20 L467.55,285.44 L471.41,286.77 L475.27,288.20 L479.13,289.71 L482.99,291.32 L486.85,293.04 L490.71,294.85 L494.57,296.77 L496.50,297.77 M147.67,385.10 147.67,385.10 L151.11,381.59 L154.56,378.16 L158.00,374.80 L161.45,371.51 L164.89,368.30 L168.34,365.16 L171.78,362.10 L175.23,359.11 L178.67,356.18 L182.11,353.33 L185.56,350.55 L189.00,347.84 L192.45,345.20 L195.89,342.63 L199.34,340.12 L202.78,337.68 L206.23,335.31 L209.67,333.00 L213.12,330.75 L216.56,328.56 L220.01,326.44 L223.45,324.38 L226.89,322.37 L230.34,320.43 L233.78,318.54 L237.23,316.72 L240.67,314.94 L244.12,313.23 L247.56,311.56 L251.01,309.95 L254.45,308.40 L257.90,306.89 L261.34,305.44 L264.79,304.04 L268.23,302.69 L271.67,301.39 L275.12,300.13 L278.56,298.93 L282.01,297.77 L285.45,296.65 L288.90,295.59 L292.34,294.57 L295.79,293.60 L299.23,292.67 L302.68,291.79 L306.12,290.95 L309.57,290.16 L313.01,289.41 L316.45,288.71 L319.90,288.05 L323.34,287.44 L326.79,286.87 L330.23,286.34 L333.68,285.87 L337.12,285.43 L340.57,285.05 L344.01,284.71 L347.46,284.42 L350.90,284.17 L354.35,283.98 L357.79,283.83 L361.23,283.73 L364.68,283.69 L368.12,283.69 L371.57,283.75 L375.01,283.86 L378.46,284.03 L381.90,284.26 L385.35,284.54 L388.79,284.88 L392.24,285.28 L395.68,285.74 L399.13,286.27 L402.57,286.86 L406.01,287.52 L409.46,288.25 L412.90,289.05 L416.35,289.93 L419.79,290.88 L423.24,291.90 L426.68,293.01 L430.13,294.19 L433.57,295.47 L437.02,296.82 L440.46,298.27 L443.91,299.81 L447.35,301.44 L450.79,303.17 L454.24,305.00 L455.10,305.48 M148.50,383.50 148.50,383.50 L151.52,380.39 L154.54,377.35 L157.56,374.36 L160.58,371.44 L163.60,368.59 L166.63,365.79 L169.65,363.06 L172.67,360.39 L175.69,357.79 L178.71,355.24 L181.73,352.76 L184.75,350.33 L187.77,347.97 L190.79,345.67 L193.81,343.42 L196.83,341.24 L199.85,339.11 L202.87,337.04 L205.89,335.03 L208.91,333.08 L211.93,331.18 L214.95,329.33 L217.97,327.54 L220.99,325.80 L224.02,324.11 L227.04,322.48 L230.06,320.90 L233.08,319.37 L236.10,317.88 L239.12,316.45 L242.14,315.07 L245.16,313.73 L248.18,312.44 L251.20,311.20 L254.22,310.00 L257.24,308.85 L260.26,307.75 L263.28,306.69 L266.30,305.67 L269.32,304.70 L272.34,303.77 L275.36,302.88 L278.39,302.04 L281.41,301.24 L284.43,300.48 L287.45,299.77 L290.47,299.09 L293.49,298.46 L296.51,297.88 L299.53,297.33 L302.55,296.83 L305.57,296.36 L308.59,295.95 L311.61,295.57 L314.63,295.24 L317.65,294.95 L320.67,294.71 L323.69,294.52 L326.71,294.36 L329.73,294.26 L332.76,294.20 L335.78,294.19 L338.80,294.23 L341.82,294.32 L344.84,294.46 L347.86,294.66 L350.88,294.90 L353.90,295.20 L356.92,295.56 L359.94,295.98 L362.96,296.45 L365.98,296.98 L369.00,297.58 L372.02,298.24 L375.04,298.96 L378.06,299.75 L381.08,300.61 L384.10,301.55 L387.13,302.55 L390.15,303.63 L393.17,304.79 L396.19,306.03 L399.21,307.35 L402.23,308.75 L405.25,310.25 L408.27,311.83 L411.29,313.50 L412.80,314.37 M148.50,383.44 148.50,383.44 L151.10,380.78 L153.69,378.17 L156.29,375.61 L158.89,373.10 L161.48,370.65 L164.08,368.25 L166.68,365.91 L169.27,363.61 L171.87,361.37 L174.46,359.18 L177.06,357.04 L179.66,354.96 L182.25,352.93 L184.85,350.95 L187.45,349.02 L190.04,347.14 L192.64,345.31 L195.24,343.53 L197.83,341.80 L200.43,340.12 L203.03,338.49 L205.62,336.91 L208.22,335.37 L210.82,333.88 L213.41,332.44 L216.01,331.04 L218.61,329.69 L221.20,328.38 L223.80,327.12 L226.39,325.90 L228.99,324.73 L231.59,323.59 L234.18,322.50 L236.78,321.45 L239.38,320.45 L241.97,319.48 L244.57,318.55 L247.17,317.67 L249.76,316.82 L252.36,316.01 L254.96,315.25 L257.55,314.52 L260.15,313.83 L262.75,313.18 L265.34,312.56 L267.94,311.99 L270.54,311.45 L273.13,310.96 L275.73,310.50 L278.32,310.08 L280.92,309.70 L283.52,309.36 L286.11,309.06 L288.71,308.80 L291.31,308.57 L293.90,308.39 L296.50,308.26 L299.10,308.16 L301.69,308.11 L304.29,308.09 L306.89,308.13 L309.48,308.21 L312.08,308.33 L314.68,308.50 L317.27,308.72 L319.87,308.99 L322.46,309.31 L325.06,309.68 L327.66,310.10 L330.25,310.58 L332.85,311.11 L335.45,311.70 L338.04,312.35 L340.64,313.06 L343.24,313.83 L345.83,314.67 L348.43,315.57 L351.03,316.53 L353.62,317.57 L356.22,318.68 L358.82,319.86 L361.41,321.12 L364.01,322.45 L366.61,323.86 L369.20,325.36 L370.50,326.14 M148.38,384.31 148.38,384.31 L150.55,382.15 L152.72,380.04 L154.89,377.96 L157.06,375.93 L159.23,373.94 L161.40,372.00 L163.57,370.10 L165.74,368.24 L167.91,366.42 L170.07,364.65 L172.24,362.92 L174.41,361.24 L176.58,359.60 L178.75,358.00 L180.92,356.44 L183.09,354.93 L185.26,353.46 L187.43,352.03 L189.60,350.64 L191.77,349.29 L193.94,347.98 L196.11,346.72 L198.28,345.49 L200.45,344.30 L202.62,343.15 L204.79,342.04 L206.95,340.97 L209.12,339.93 L211.29,338.94 L213.46,337.98 L215.63,337.05 L217.80,336.17 L219.97,335.31 L222.14,334.50 L224.31,333.72 L226.48,332.97 L228.65,332.26 L230.82,331.58 L232.99,330.94 L235.16,330.33 L237.33,329.76 L239.50,329.21 L241.67,328.71 L243.83,328.23 L246.00,327.79 L248.17,327.38 L250.34,327.01 L252.51,326.67 L254.68,326.37 L256.85,326.10 L259.02,325.86 L261.19,325.66 L263.36,325.49 L265.53,325.36 L267.70,325.27 L269.87,325.21 L272.04,325.19 L274.21,325.21 L276.38,325.26 L278.55,325.36 L280.72,325.49 L282.88,325.67 L285.05,325.89 L287.22,326.15 L289.39,326.46 L291.56,326.81 L293.73,327.20 L295.90,327.65 L298.07,328.14 L300.24,328.68 L302.41,329.27 L304.58,329.92 L306.75,330.62 L308.92,331.38 L311.09,332.19 L313.26,333.06 L315.43,333.99 L317.60,334.99 L319.76,336.05 L321.93,337.17 L324.10,338.37 L326.27,339.63 L327.90,340.62 M146.19,390.26 146.19,390.26 L147.92,388.71 L149.66,387.19 L151.39,385.70 L153.12,384.24 L154.86,382.81 L156.59,381.42 L158.33,380.06 L160.06,378.73 L161.80,377.43 L163.53,376.17 L165.26,374.94 L167.00,373.74 L168.73,372.57 L170.47,371.43 L172.20,370.33 L173.94,369.25 L175.67,368.21 L177.40,367.20 L179.14,366.22 L180.87,365.27 L182.61,364.35 L184.34,363.47 L186.08,362.61 L187.81,361.78 L189.55,360.98 L191.28,360.20 L193.01,359.46 L194.75,358.75 L196.48,358.06 L198.22,357.40 L199.95,356.77 L201.69,356.17 L203.42,355.59 L205.15,355.04 L206.89,354.52 L208.62,354.02 L210.36,353.55 L212.09,353.11 L213.83,352.69 L215.56,352.30 L217.29,351.93 L219.03,351.59 L220.76,351.28 L222.50,350.99 L224.23,350.73 L225.97,350.49 L227.70,350.28 L229.43,350.10 L231.17,349.94 L232.90,349.81 L234.64,349.71 L236.37,349.64 L238.11,349.59 L239.84,349.58 L241.58,349.59 L243.31,349.63 L245.04,349.70 L246.78,349.80 L248.51,349.94 L250.25,350.10 L251.98,350.30 L253.72,350.53 L255.45,350.80 L257.18,351.10 L258.92,351.43 L260.65,351.81 L262.39,352.22 L264.12,352.67 L265.86,353.16 L267.59,353.69 L269.32,354.27 L271.06,354.88 L272.79,355.55 L274.53,356.25 L276.26,357.01 L278.00,357.81 L279.73,358.67 L281.46,359.57 L283.20,360.53 L284.50,361.29 M139.02,411.09 139.02,411.09 L139.94,410.69 L140.85,410.31 L141.77,409.93 L142.69,409.57 L143.61,409.21 L144.52,408.87 L145.44,408.53 L146.36,408.21 L147.27,407.89 L148.19,407.59 L149.11,407.29 L150.03,407.00 L150.94,406.73 L151.86,406.46 L152.78,406.20 L153.70,405.95 L154.61,405.71 L155.53,405.48 L156.45,405.26 L157.36,405.05 L158.28,404.84 L159.20,404.65 L160.12,404.46 L161.03,404.29 L161.95,404.12 L162.87,403.96 L163.79,403.81 L164.70,403.66 L165.62,403.53 L166.54,403.40 L167.45,403.29 L168.37,403.18 L169.29,403.08 L170.21,402.98 L171.12,402.90 L172.04,402.82 L172.96,402.76 L173.88,402.70 L174.79,402.65 L175.71,402.61 L176.63,402.57 L177.55,402.55 L178.46,402.53 L179.38,402.53 L180.30,402.53 L181.21,402.54 L182.13,402.57 L183.05,402.60 L183.97,402.64 L184.88,402.69 L185.80,402.75 L186.72,402.82 L187.64,402.90 L188.55,403.00 L189.47,403.10 L190.39,403.22 L191.30,403.35 L192.22,403.49 L193.14,403.64 L194.06,403.81 L194.97,403.99 L195.89,404.18 L196.81,404.38 L197.73,404.60 L198.64,404.84 L199.56,405.09 L200.48,405.36 L201.39,405.64 L202.31,405.94 L203.00,406.17" stroke="#000" stroke-width="1.25" fill="none"/>
<path d="M111.50,129.85 L115.78,130.22 L120.06,130.63 L124.34,131.07 L128.62,131.55 L132.90,132.07 L137.18,132.62 L141.46,133.20 L145.74,133.83 L150.02,134.48 L154.30,135.18 L158.58,135.90 L162.86,136.66 L167.14,137.46 L171.42,138.29 L175.70,139.16 L179.98,140.06 L184.25,140.99 L188.53,141.96 L192.81,142.96 L197.09,143.99 L201.37,145.06 L205.65,146.16 L209.93,147.29 L214.21,148.45 L218.49,149.65 L222.77,150.88 L227.05,152.14 L229.19,152.78" stroke="#6580a8" stroke-width="0.95" fill="none"/>
<path d="M111.50,129.85 L115.78,130.22 L120.06,130.63 L124.34,131.07 L128.62,131.55 L132.90,132.07 L137.18,132.62 L141.46,133.20 L145.74,133.83 L150.02,134.48 L154.30,135.18 L158.58,135.90 L162.86,136.66 L167.14,137.46 L171.42,138.29 L175.70,139.16 L179.98,140.06 L184.25,140.99 L188.53,141.96 L192.81,142.96 L197.09,143.99 L201.37,145.06 L205.65,146.16 L209.93,147.29 L214.21,148.45 L218.49,149.65 L222.77,150.88 L227.05,152.14 L229.19,152.78" stroke="#154a8a" stroke-width="1.05" stroke-dasharray="1.6 3.7" fill="none"/>
<path d="M229.19,152.78 229.19,152.78 L233.47,154.09 L237.75,155.43 L242.03,156.80 L246.31,158.20 L250.59,159.63 L254.87,161.09 L259.15,162.59 L263.43,164.11 L267.71,165.66 L271.99,167.25 L276.27,168.86 L280.55,170.50 L284.83,172.17 L289.11,173.88 L293.39,175.61 L297.67,177.36 L301.95,179.15 L306.23,180.97 L310.51,182.81 L314.79,184.68 L319.07,186.58 L323.35,188.51 L327.62,190.46 L331.90,192.44 L336.18,194.45 L340.46,196.49 L344.74,198.55 L349.02,200.64 L353.30,202.75 L357.58,204.89 L361.86,207.06 L366.14,209.25 L370.42,211.47 L374.70,213.71 L378.98,215.98 L383.26,218.27 L387.54,220.59 L391.82,222.93 L396.10,225.30 L400.38,227.69 L404.66,230.10 L408.94,232.54 L413.22,235.00 L417.50,237.49 L421.78,240.00 L426.06,242.53 L430.34,245.08 L434.62,247.66 L438.90,250.26 L443.18,252.88 L447.46,255.52 L451.74,258.19 L456.02,260.87 L460.30,263.58 L464.58,266.31 L468.85,269.06 L473.13,271.83 L477.41,274.62 L481.69,277.44 L485.97,280.27 L490.25,283.12 L494.53,285.99 L498.81,288.89 L503.09,291.80 L507.37,294.73 L511.65,297.68 L515.93,300.65 L520.21,303.64 L524.49,306.64 L528.77,309.67 L533.05,312.71 L537.33,315.77 L538.40,316.54" stroke="#154a8a" stroke-width="1.4" fill="none"/>
<path d="M111.50,185.23 L115.36,185.53 L119.22,185.86 L123.08,186.22 L126.94,186.61 L130.80,187.03 L134.66,187.48 L138.52,187.95 L142.38,188.46 L146.24,188.99 L150.10,189.56 L153.96,190.15 L157.82,190.77 L161.68,191.42 L165.54,192.09 L169.39,192.79 L173.25,193.53 L177.11,194.28 L180.97,195.07 L184.83,195.88 L188.69,196.72 L192.55,197.59 L196.41,198.49 L200.27,199.41 L204.13,200.35 L207.99,201.33 L211.85,202.33 L211.85,202.33" stroke="#6580a8" stroke-width="0.95" fill="none"/>
<path d="M111.50,185.23 L115.36,185.53 L119.22,185.86 L123.08,186.22 L126.94,186.61 L130.80,187.03 L134.66,187.48 L138.52,187.95 L142.38,188.46 L146.24,188.99 L150.10,189.56 L153.96,190.15 L157.82,190.77 L161.68,191.42 L165.54,192.09 L169.39,192.79 L173.25,193.53 L177.11,194.28 L180.97,195.07 L184.83,195.88 L188.69,196.72 L192.55,197.59 L196.41,198.49 L200.27,199.41 L204.13,200.35 L207.99,201.33 L211.85,202.33 L211.85,202.33" stroke="#154a8a" stroke-width="1.05" stroke-dasharray="1.6 3.7" fill="none"/>
<path d="M211.85,202.33 211.85,202.33 L215.71,203.35 L219.57,204.40 L223.43,205.48 L227.29,206.58 L231.15,207.71 L235.01,208.86 L238.87,210.04 L242.73,211.24 L246.59,212.47 L250.45,213.72 L254.31,214.99 L258.17,216.29 L262.03,217.62 L265.89,218.97 L269.75,220.34 L273.61,221.73 L277.46,223.15 L281.32,224.59 L285.18,226.06 L289.04,227.55 L292.90,229.06 L296.76,230.59 L300.62,232.15 L304.48,233.73 L308.34,235.33 L312.20,236.95 L316.06,238.59 L319.92,240.26 L323.78,241.95 L327.64,243.66 L331.50,245.39 L335.36,247.14 L339.22,248.91 L343.08,250.70 L346.94,252.52 L350.80,254.35 L354.66,256.21 L358.52,258.08 L362.38,259.98 L366.24,261.89 L370.10,263.83 L373.96,265.78 L377.82,267.75 L381.68,269.75 L385.54,271.76 L389.39,273.79 L393.25,275.84 L397.11,277.91 L400.97,279.99 L404.83,282.10 L408.69,284.22 L412.55,286.36 L416.41,288.52 L420.27,290.70 L424.13,292.89 L427.99,295.10 L431.85,297.33 L435.71,299.57 L439.57,301.84 L443.43,304.12 L447.29,306.41 L451.15,308.72 L455.01,311.05 L458.87,313.40 L462.73,315.76 L466.59,318.13 L470.45,320.52 L474.31,322.93 L478.17,325.35 L482.03,327.79 L485.89,330.25 L489.75,332.71 L493.61,335.20 L496.50,337.07" stroke="#154a8a" stroke-width="1.4" fill="none"/>
<path d="M111.50,234.33 L114.94,234.57 L118.39,234.83 L121.83,235.12 L125.28,235.43 L128.72,235.76 L132.17,236.12 L135.61,236.50 L139.06,236.90 L142.50,237.33 L145.95,237.77 L149.39,238.25 L152.84,238.74 L156.28,239.26 L159.72,239.79 L163.17,240.35 L166.61,240.94 L170.06,241.54 L173.50,242.17 L176.95,242.82 L180.39,243.48 L183.84,244.18 L187.28,244.89 L190.73,245.62 L194.17,246.37 L197.62,247.15 L196.75,246.95" stroke="#6580a8" stroke-width="0.95" fill="none"/>
<path d="M111.50,234.33 L114.94,234.57 L118.39,234.83 L121.83,235.12 L125.28,235.43 L128.72,235.76 L132.17,236.12 L135.61,236.50 L139.06,236.90 L142.50,237.33 L145.95,237.77 L149.39,238.25 L152.84,238.74 L156.28,239.26 L159.72,239.79 L163.17,240.35 L166.61,240.94 L170.06,241.54 L173.50,242.17 L176.95,242.82 L180.39,243.48 L183.84,244.18 L187.28,244.89 L190.73,245.62 L194.17,246.37 L197.62,247.15 L196.75,246.95" stroke="#154a8a" stroke-width="1.05" stroke-dasharray="1.6 3.7" fill="none"/>
<path d="M196.75,246.95 196.75,246.95 L200.20,247.74 L203.64,248.56 L207.09,249.39 L210.53,250.24 L213.98,251.11 L217.42,252.01 L220.87,252.92 L224.31,253.85 L227.76,254.80 L231.20,255.78 L234.64,256.77 L238.09,257.78 L241.53,258.81 L244.98,259.86 L248.42,260.93 L251.87,262.02 L255.31,263.12 L258.76,264.25 L262.20,265.39 L265.65,266.55 L269.09,267.74 L272.54,268.93 L275.98,270.15 L279.42,271.39 L282.87,272.64 L286.31,273.91 L289.76,275.20 L293.20,276.50 L296.65,277.83 L300.09,279.17 L303.54,280.52 L306.98,281.90 L310.43,283.29 L313.87,284.70 L317.32,286.12 L320.76,287.56 L324.20,289.02 L327.65,290.49 L331.09,291.98 L334.54,293.49 L337.98,295.01 L341.43,296.54 L344.87,298.10 L348.32,299.66 L351.76,301.25 L355.21,302.85 L358.65,304.46 L362.10,306.09 L365.54,307.73 L368.98,309.39 L372.43,311.06 L375.87,312.75 L379.32,314.45 L382.76,316.17 L386.21,317.90 L389.65,319.64 L393.10,321.40 L396.54,323.17 L399.99,324.96 L403.43,326.75 L406.88,328.57 L410.32,330.39 L413.76,332.23 L417.21,334.08 L420.65,335.94 L424.10,337.82 L427.54,339.71 L430.99,341.61 L434.43,343.53 L437.88,345.45 L441.32,347.39 L444.77,349.34 L448.21,351.31 L451.66,353.28 L455.10,355.27 L455.10,355.27" stroke="#154a8a" stroke-width="1.4" fill="none"/>
<path d="M111.50,278.73 L114.52,278.92 L117.54,279.12 L120.56,279.34 L123.58,279.58 L126.60,279.83 L129.62,280.11 L132.64,280.40 L135.66,280.71 L138.68,281.04 L141.71,281.38 L144.73,281.74 L147.75,282.12 L150.77,282.52 L153.79,282.93 L156.81,283.37 L159.83,283.81 L162.85,284.28 L165.87,284.76 L168.89,285.26 L171.91,285.77 L174.93,286.30 L177.95,286.85 L180.97,287.41 L182.48,287.70" stroke="#6580a8" stroke-width="0.95" fill="none"/>
<path d="M111.50,278.73 L114.52,278.92 L117.54,279.12 L120.56,279.34 L123.58,279.58 L126.60,279.83 L129.62,280.11 L132.64,280.40 L135.66,280.71 L138.68,281.04 L141.71,281.38 L144.73,281.74 L147.75,282.12 L150.77,282.52 L153.79,282.93 L156.81,283.37 L159.83,283.81 L162.85,284.28 L165.87,284.76 L168.89,285.26 L171.91,285.77 L174.93,286.30 L177.95,286.85 L180.97,287.41 L182.48,287.70" stroke="#154a8a" stroke-width="1.05" stroke-dasharray="1.6 3.7" fill="none"/>
<path d="M182.48,287.70 182.48,287.70 L185.50,288.29 L188.52,288.89 L191.54,289.51 L194.57,290.15 L197.59,290.80 L200.61,291.47 L203.63,292.15 L206.65,292.85 L209.67,293.56 L212.69,294.29 L215.71,295.04 L218.73,295.79 L221.75,296.57 L224.77,297.36 L227.79,298.16 L230.81,298.98 L233.83,299.81 L236.85,300.66 L239.87,301.52 L242.89,302.40 L245.91,303.29 L248.94,304.19 L251.96,305.11 L254.98,306.04 L258.00,306.99 L261.02,307.95 L264.04,308.92 L267.06,309.91 L270.08,310.91 L273.10,311.92 L276.12,312.95 L279.14,313.99 L282.16,315.04 L285.18,316.11 L288.20,317.19 L291.22,318.28 L294.24,319.39 L297.26,320.50 L300.28,321.63 L303.31,322.78 L306.33,323.93 L309.35,325.10 L312.37,326.27 L315.39,327.47 L318.41,328.67 L321.43,329.88 L324.45,331.11 L327.47,332.35 L330.49,333.60 L333.51,334.86 L336.53,336.13 L339.55,337.41 L342.57,338.71 L345.59,340.01 L348.61,341.33 L351.63,342.66 L354.65,344.00 L357.67,345.34 L360.70,346.70 L363.72,348.07 L366.74,349.45 L369.76,350.85 L372.78,352.25 L375.80,353.66 L378.82,355.08 L381.84,356.51 L384.86,357.95 L387.88,359.40 L390.90,360.86 L393.92,362.33 L396.94,363.81 L399.96,365.30 L402.98,366.80 L406.00,368.30 L409.02,369.82 L412.04,371.34 L412.80,371.73" stroke="#154a8a" stroke-width="1.4" fill="none"/>
<path d="M111.50,317.31 L114.10,317.45 L116.69,317.60 L119.29,317.76 L121.89,317.93 L124.48,318.12 L127.08,318.33 L129.68,318.54 L132.27,318.77 L134.87,319.01 L137.46,319.27 L140.06,319.54 L142.66,319.82 L145.25,320.11 L147.85,320.42 L150.45,320.73 L153.04,321.06 L155.64,321.41 L158.24,321.76 L160.83,322.13 L163.43,322.51 L166.03,322.90 L168.62,323.31 L169.92,323.52" stroke="#6580a8" stroke-width="0.95" fill="none"/>
<path d="M111.50,317.31 L114.10,317.45 L116.69,317.60 L119.29,317.76 L121.89,317.93 L124.48,318.12 L127.08,318.33 L129.68,318.54 L132.27,318.77 L134.87,319.01 L137.46,319.27 L140.06,319.54 L142.66,319.82 L145.25,320.11 L147.85,320.42 L150.45,320.73 L153.04,321.06 L155.64,321.41 L158.24,321.76 L160.83,322.13 L163.43,322.51 L166.03,322.90 L168.62,323.31 L169.92,323.52" stroke="#154a8a" stroke-width="1.05" stroke-dasharray="1.6 3.7" fill="none"/>
<path d="M169.92,323.52 169.92,323.52 L172.52,323.94 L175.11,324.37 L177.71,324.82 L180.31,325.28 L182.90,325.75 L185.50,326.23 L188.10,326.72 L190.69,327.23 L193.29,327.74 L195.89,328.27 L198.48,328.81 L201.08,329.36 L203.68,329.92 L206.27,330.49 L208.87,331.07 L211.46,331.67 L214.06,332.27 L216.66,332.89 L219.25,333.51 L221.85,334.15 L224.45,334.80 L227.04,335.45 L229.64,336.12 L232.24,336.80 L234.83,337.49 L237.43,338.19 L240.03,338.90 L242.62,339.62 L245.22,340.35 L247.82,341.09 L250.41,341.84 L253.01,342.60 L255.61,343.36 L258.20,344.14 L260.80,344.93 L263.39,345.73 L265.99,346.53 L268.59,347.35 L271.18,348.18 L273.78,349.01 L276.38,349.85 L278.97,350.71 L281.57,351.57 L284.17,352.44 L286.76,353.32 L289.36,354.21 L291.96,355.11 L294.55,356.01 L297.15,356.93 L299.75,357.85 L302.34,358.78 L304.94,359.72 L307.54,360.67 L310.13,361.63 L312.73,362.59 L315.32,363.57 L317.92,364.55 L320.52,365.54 L323.11,366.53 L325.71,367.54 L328.31,368.55 L330.90,369.57 L333.50,370.60 L336.10,371.63 L338.69,372.67 L341.29,373.72 L343.89,374.78 L346.48,375.85 L349.08,376.92 L351.68,378.00 L354.27,379.08 L356.87,380.18 L359.46,381.28 L362.06,382.38 L364.66,383.50 L367.25,384.62 L369.85,385.74 L370.50,386.03" stroke="#154a8a" stroke-width="1.4" fill="none"/>
<path d="M111.50,350.27 L113.67,350.37 L115.84,350.47 L118.01,350.59 L120.18,350.71 L122.35,350.84 L124.52,350.98 L126.69,351.14 L128.86,351.29 L131.02,351.46 L133.19,351.64 L135.36,351.83 L137.53,352.02 L139.70,352.23 L141.87,352.44 L144.04,352.67 L146.21,352.90 L148.38,353.14 L150.55,353.38 L152.72,353.64 L154.89,353.91 L157.06,354.18 L159.23,354.46 L158.68,354.39" stroke="#6580a8" stroke-width="0.95" fill="none"/>
<path d="M111.50,350.27 L113.67,350.37 L115.84,350.47 L118.01,350.59 L120.18,350.71 L122.35,350.84 L124.52,350.98 L126.69,351.14 L128.86,351.29 L131.02,351.46 L133.19,351.64 L135.36,351.83 L137.53,352.02 L139.70,352.23 L141.87,352.44 L144.04,352.67 L146.21,352.90 L148.38,353.14 L150.55,353.38 L152.72,353.64 L154.89,353.91 L157.06,354.18 L159.23,354.46 L158.68,354.39" stroke="#154a8a" stroke-width="1.05" stroke-dasharray="1.6 3.7" fill="none"/>
<path d="M158.68,354.39 158.68,354.39 L160.85,354.68 L163.02,354.98 L165.19,355.28 L167.36,355.60 L169.53,355.92 L171.70,356.25 L173.87,356.59 L176.04,356.93 L178.21,357.29 L180.38,357.65 L182.55,358.02 L184.72,358.40 L186.89,358.78 L189.06,359.18 L191.23,359.58 L193.40,359.99 L195.57,360.40 L197.73,360.83 L199.90,361.26 L202.07,361.70 L204.24,362.14 L206.41,362.60 L208.58,363.06 L210.75,363.53 L212.92,364.00 L215.09,364.48 L217.26,364.97 L219.43,365.47 L221.60,365.97 L223.77,366.49 L225.94,367.00 L228.11,367.53 L230.28,368.06 L232.45,368.60 L234.61,369.14 L236.78,369.69 L238.95,370.25 L241.12,370.82 L243.29,371.39 L245.46,371.97 L247.63,372.55 L249.80,373.14 L251.97,373.74 L254.14,374.34 L256.31,374.95 L258.48,375.57 L260.65,376.19 L262.82,376.82 L264.99,377.45 L267.16,378.09 L269.33,378.74 L271.49,379.39 L273.66,380.05 L275.83,380.71 L278.00,381.38 L280.17,382.06 L282.34,382.74 L284.51,383.42 L286.68,384.11 L288.85,384.81 L291.02,385.51 L293.19,386.22 L295.36,386.94 L297.53,387.65 L299.70,388.38 L301.87,389.11 L304.04,389.84 L306.21,390.58 L308.38,391.33 L310.54,392.08 L312.71,392.83 L314.88,393.59 L317.05,394.35 L319.22,395.12 L321.39,395.90 L323.56,396.67 L325.73,397.46 L327.90,398.25 L327.90,398.25" stroke="#154a8a" stroke-width="1.4" fill="none"/>
<path d="M111.50,377.78 L113.23,377.84 L114.97,377.91 L116.70,377.98 L118.44,378.06 L120.17,378.15 L121.91,378.24 L123.64,378.33 L125.37,378.44 L127.11,378.54 L128.84,378.66 L130.58,378.78 L132.31,378.90 L134.05,379.03 L135.78,379.17 L137.52,379.31 L139.25,379.46 L140.98,379.61 L142.72,379.77 L144.45,379.94 L146.19,380.10 L147.92,380.28 L149.66,380.46 L149.66,380.46" stroke="#6580a8" stroke-width="0.95" fill="none"/>
<path d="M111.50,377.78 L113.23,377.84 L114.97,377.91 L116.70,377.98 L118.44,378.06 L120.17,378.15 L121.91,378.24 L123.64,378.33 L125.37,378.44 L127.11,378.54 L128.84,378.66 L130.58,378.78 L132.31,378.90 L134.05,379.03 L135.78,379.17 L137.52,379.31 L139.25,379.46 L140.98,379.61 L142.72,379.77 L144.45,379.94 L146.19,380.10 L147.92,380.28 L149.66,380.46 L149.66,380.46" stroke="#154a8a" stroke-width="1.05" stroke-dasharray="1.6 3.7" fill="none"/>
<path d="M149.66,380.46 149.66,380.46 L151.39,380.65 L153.12,380.84 L154.86,381.03 L156.59,381.24 L158.33,381.44 L160.06,381.65 L161.80,381.87 L163.53,382.09 L165.26,382.32 L167.00,382.55 L168.73,382.79 L170.47,383.04 L172.20,383.28 L173.94,383.54 L175.67,383.79 L177.40,384.06 L179.14,384.32 L180.87,384.60 L182.61,384.87 L184.34,385.15 L186.08,385.44 L187.81,385.73 L189.55,386.03 L191.28,386.33 L193.01,386.63 L194.75,386.94 L196.48,387.26 L198.22,387.58 L199.95,387.90 L201.69,388.23 L203.42,388.56 L205.15,388.89 L206.89,389.24 L208.62,389.58 L210.36,389.93 L212.09,390.28 L213.83,390.64 L215.56,391.00 L217.29,391.37 L219.03,391.74 L220.76,392.12 L222.50,392.49 L224.23,392.88 L225.97,393.26 L227.70,393.65 L229.43,394.05 L231.17,394.45 L232.90,394.85 L234.64,395.25 L236.37,395.66 L238.11,396.08 L239.84,396.50 L241.58,396.92 L243.31,397.34 L245.04,397.77 L246.78,398.20 L248.51,398.64 L250.25,399.08 L251.98,399.52 L253.72,399.97 L255.45,400.42 L257.18,400.87 L258.92,401.33 L260.65,401.79 L262.39,402.25 L264.12,402.72 L265.86,403.19 L267.59,403.66 L269.32,404.14 L271.06,404.62 L272.79,405.10 L274.53,405.59 L276.26,406.08 L278.00,406.57 L279.73,407.06 L281.46,407.56 L283.20,408.06 L284.50,408.44" stroke="#154a8a" stroke-width="1.4" fill="none"/>
<path d="M111.50,412.87 L112.42,412.89 L113.33,412.91 L114.25,412.93 L115.17,412.95 L116.09,412.97 L117.00,413.00 L117.92,413.03 L118.84,413.05 L119.76,413.08 L120.67,413.12 L121.59,413.15 L122.51,413.19 L123.42,413.22 L124.34,413.26 L125.26,413.30 L126.18,413.34 L127.09,413.38 L128.01,413.43 L128.93,413.47 L129.85,413.52 L130.76,413.57 L131.68,413.62 L132.60,413.67 L133.52,413.73 L134.43,413.78 L135.35,413.84 L136.27,413.90 L137.18,413.96 L138.10,414.02 L137.87,414.00" stroke="#6580a8" stroke-width="0.95" fill="none"/>
<path d="M111.50,412.87 L112.42,412.89 L113.33,412.91 L114.25,412.93 L115.17,412.95 L116.09,412.97 L117.00,413.00 L117.92,413.03 L118.84,413.05 L119.76,413.08 L120.67,413.12 L121.59,413.15 L122.51,413.19 L123.42,413.22 L124.34,413.26 L125.26,413.30 L126.18,413.34 L127.09,413.38 L128.01,413.43 L128.93,413.47 L129.85,413.52 L130.76,413.57 L131.68,413.62 L132.60,413.67 L133.52,413.73 L134.43,413.78 L135.35,413.84 L136.27,413.90 L137.18,413.96 L138.10,414.02 L137.87,414.00" stroke="#154a8a" stroke-width="1.05" stroke-dasharray="1.6 3.7" fill="none"/>
<path d="M137.87,414.00 137.87,414.00 L138.79,414.06 L139.71,414.13 L140.62,414.19 L141.54,414.26 L142.46,414.32 L143.38,414.39 L144.29,414.46 L145.21,414.54 L146.13,414.61 L147.05,414.68 L147.96,414.76 L148.88,414.84 L149.80,414.91 L150.71,414.99 L151.63,415.08 L152.55,415.16 L153.47,415.24 L154.38,415.33 L155.30,415.41 L156.22,415.50 L157.14,415.59 L158.05,415.68 L158.97,415.77 L159.89,415.86 L160.80,415.96 L161.72,416.05 L162.64,416.15 L163.56,416.25 L164.47,416.34 L165.39,416.44 L166.31,416.55 L167.23,416.65 L168.14,416.75 L169.06,416.85 L169.98,416.96 L170.89,417.07 L171.81,417.18 L172.73,417.28 L173.65,417.39 L174.56,417.51 L175.48,417.62 L176.40,417.73 L177.32,417.85 L178.23,417.96 L179.15,418.08 L180.07,418.20 L180.98,418.31 L181.90,418.43 L182.82,418.55 L183.74,418.68 L184.65,418.80 L185.57,418.92 L186.49,419.05 L187.41,419.17 L188.32,419.30 L189.24,419.43 L190.16,419.56 L191.08,419.68 L191.99,419.81 L192.91,419.95 L193.83,420.08 L194.74,420.21 L195.66,420.35 L196.58,420.48 L197.50,420.62 L198.41,420.75 L199.33,420.89 L200.25,421.03 L201.17,421.17 L202.08,421.31 L203.00,421.45 L203.00,421.45" stroke="#154a8a" stroke-width="1.4" fill="none"/>
<path d="M111.50,641.70 L113.65,641.70 L115.79,641.70 L117.94,641.70 L120.08,641.70 L122.23,641.70 L124.37,641.70 L126.52,641.70 L128.66,641.70 L130.81,641.70 L132.95,641.70 L135.10,641.70 L137.24,641.70 L139.39,641.70 L141.53,641.70 L143.68,641.71 L145.82,641.71 L147.97,641.71 L150.11,641.71 L152.26,641.71 L154.40,641.71 L156.55,641.71 L158.69,641.71 L160.84,641.71 L162.99,641.71 L165.13,641.71 L167.28,641.71 L169.42,641.71 L171.57,641.71 L173.71,641.71 L175.86,641.71 L178.00,641.72 L180.15,641.72 L182.29,641.72 L184.44,641.72 L186.58,641.72 L188.73,641.72 L190.87,641.72 M111.50,642.82 L113.43,642.82 L115.37,642.82 L117.30,642.82 L119.24,642.82 L121.17,642.82 L123.11,642.82 L125.04,642.82 L126.98,642.82 L128.91,642.82 L130.85,642.82 L132.78,642.82 L134.72,642.82 L136.65,642.82 L138.59,642.82 L140.52,642.82 L142.45,642.82 L144.39,642.83 L146.32,642.83 L148.26,642.83 L150.19,642.83 L152.13,642.83 L154.06,642.83 L156.00,642.83 L157.93,642.83 L159.87,642.83 L161.80,642.83 L163.74,642.83 L165.67,642.83 L167.61,642.83 L169.54,642.83 L171.47,642.83 L173.41,642.83 L175.34,642.83 L177.28,642.83 L179.21,642.83 L181.15,642.83 L183.08,642.83 L185.02,642.83 L186.95,642.83 L188.89,642.83 L190.82,642.83 M111.50,643.81 L113.23,643.81 L114.95,643.81 L116.68,643.81 L118.41,643.81 L120.13,643.81 L121.86,643.81 L123.59,643.81 L125.31,643.81 L127.04,643.81 L128.77,643.81 L130.49,643.81 L132.22,643.82 L133.95,643.82 L135.67,643.82 L137.40,643.82 L139.13,643.82 L140.85,643.82 L142.58,643.82 L144.31,643.82 L146.03,643.82 L147.76,643.82 L149.49,643.82 L151.21,643.82 L152.94,643.82 L154.67,643.82 L156.39,643.82 L158.12,643.82 L159.85,643.82 L161.57,643.82 L163.30,643.82 L165.03,643.82 L166.75,643.82 L168.48,643.82 L170.21,643.82 L171.93,643.82 L173.66,643.82 L175.39,643.82 L177.11,643.82 L178.84,643.82 L180.57,643.82 L182.29,643.82 L184.02,643.82 L185.75,643.82 L187.47,643.82 L189.20,643.82 L190.93,643.82 M111.50,644.71 L113.01,644.71 L114.53,644.71 L116.04,644.71 L117.56,644.71 L119.07,644.71 L120.58,644.71 L122.10,644.71 L123.61,644.71 L125.13,644.71 L126.64,644.71 L128.15,644.71 L129.67,644.71 L131.18,644.71 L132.70,644.71 L134.21,644.71 L135.73,644.71 L137.24,644.71 L138.75,644.71 L140.27,644.72 L141.78,644.72 L143.30,644.72 L144.81,644.72 L146.32,644.72 L147.84,644.72 L149.35,644.72 L150.87,644.72 L152.38,644.72 L153.89,644.72 L155.41,644.72 L156.92,644.72 L158.44,644.72 L159.95,644.72 L161.46,644.72 L162.98,644.72 L164.49,644.72 L166.01,644.72 L167.52,644.72 L169.03,644.72 L170.55,644.72 L172.06,644.72 L173.58,644.72 L175.09,644.72 L176.61,644.72 L178.12,644.72 L179.63,644.72 L181.15,644.72 L182.66,644.72 L184.18,644.71 L185.69,644.71 L187.20,644.71 L188.72,644.71 L190.23,644.71 M111.50,645.49 L112.80,645.49 L114.10,645.49 L115.40,645.49 L116.71,645.49 L118.01,645.49 L119.31,645.49 L120.61,645.49 L121.91,645.49 L123.21,645.49 L124.52,645.49 L125.82,645.49 L127.12,645.49 L128.42,645.49 L129.72,645.49 L131.02,645.49 L132.32,645.49 L133.63,645.49 L134.93,645.49 L136.23,645.49 L137.53,645.49 L138.83,645.49 L140.13,645.50 L141.43,645.50 L142.74,645.50 L144.04,645.50 L145.34,645.50 L146.64,645.50 L147.94,645.50 L149.24,645.50 L150.55,645.50 L151.85,645.50 L153.15,645.50 L154.45,645.50 L155.75,645.50 L157.05,645.50 L158.35,645.50 L159.66,645.50 L160.96,645.50 L162.26,645.50 L163.56,645.50 L164.86,645.50 L166.16,645.50 L167.46,645.50 L168.77,645.50 L170.07,645.50 L171.37,645.50 L172.67,645.49 L173.97,645.49 L175.27,645.49 L176.58,645.49 L177.88,645.49 L179.18,645.49 L180.48,645.49 L181.78,645.49 L183.08,645.49 L184.38,645.49 L185.69,645.48 L186.99,645.48 L188.29,645.48 L189.59,645.48 L190.89,645.48 M111.50,646.16 L112.59,646.16 L113.67,646.16 L114.76,646.16 L115.85,646.16 L116.94,646.16 L118.02,646.16 L119.11,646.16 L120.20,646.16 L121.29,646.16 L122.37,646.16 L123.46,646.16 L124.55,646.16 L125.64,646.16 L126.72,646.16 L127.81,646.16 L128.90,646.16 L129.99,646.16 L131.07,646.16 L132.16,646.16 L133.25,646.16 L134.34,646.16 L135.42,646.16 L136.51,646.16 L137.60,646.16 L138.69,646.16 L139.77,646.16 L140.86,646.16 L141.95,646.16 L143.04,646.16 L144.12,646.16 L145.21,646.16 L146.30,646.16 L147.39,646.16 L148.47,646.16 L149.56,646.16 L150.65,646.16 L151.74,646.16 L152.82,646.16 L153.91,646.16 L155.00,646.16 L156.08,646.16 L157.17,646.16 L158.26,646.16 L159.35,646.16 L160.43,646.16 L161.52,646.16 L162.61,646.16 L163.70,646.16 L164.78,646.16 L165.87,646.16 L166.96,646.16 L168.05,646.16 L169.13,646.16 L170.22,646.16 L171.31,646.16 L172.40,646.15 L173.48,646.15 L174.57,646.15 L175.66,646.15 L176.75,646.15 L177.83,646.15 L178.92,646.15 L180.01,646.14 L181.10,646.14 L182.18,646.14 L183.27,646.14 L184.36,646.14 L185.45,646.14 L186.53,646.13 L187.62,646.13 L188.71,646.13 L189.80,646.13 L190.88,646.12 M111.50,646.71 L112.37,646.71 L113.24,646.71 L114.11,646.71 L114.98,646.71 L115.85,646.71 L116.72,646.71 L117.59,646.71 L118.45,646.71 L119.32,646.71 L120.19,646.72 L121.06,646.72 L121.93,646.72 L122.80,646.72 L123.67,646.72 L124.54,646.72 L125.41,646.72 L126.28,646.72 L127.15,646.72 L128.02,646.72 L128.89,646.72 L129.76,646.72 L130.63,646.72 L131.49,646.72 L132.36,646.72 L133.23,646.72 L134.10,646.72 L134.97,646.72 L135.84,646.72 L136.71,646.72 L137.58,646.72 L138.45,646.72 L139.32,646.72 L140.19,646.72 L141.06,646.72 L141.93,646.72 L142.80,646.72 L143.67,646.72 L144.54,646.72 L145.40,646.72 L146.27,646.72 L147.14,646.72 L148.01,646.72 L148.88,646.72 L149.75,646.72 L150.62,646.72 L151.49,646.72 L152.36,646.72 L153.23,646.72 L154.10,646.72 L154.97,646.72 L155.84,646.71 L156.71,646.71 L157.58,646.71 L158.44,646.71 L159.31,646.71 L160.18,646.71 L161.05,646.71 L161.92,646.71 L162.79,646.71 L163.66,646.71 L164.53,646.71 L165.40,646.71 L166.27,646.71 L167.14,646.70 L168.01,646.70 L168.88,646.70 L169.75,646.70 L170.62,646.70 L171.48,646.70 L172.35,646.70 L173.22,646.70 L174.09,646.69 L174.96,646.69 L175.83,646.69 L176.70,646.69 L177.57,646.69 L178.44,646.68 L179.31,646.68 L180.18,646.68 L181.05,646.68 L181.92,646.67 L182.79,646.67 L183.66,646.67 L184.53,646.66 L185.39,646.66 L186.26,646.66 L187.13,646.66 L188.00,646.65 L188.87,646.65 L189.74,646.64 L190.61,646.64 M111.50,647.42 L111.96,647.42 L112.42,647.42 L112.88,647.42 L113.34,647.42 L113.80,647.42 L114.26,647.42 L114.72,647.42 L115.18,647.42 L115.64,647.42 L116.10,647.42 L116.56,647.42 L117.02,647.42 L117.48,647.42 L117.94,647.42 L118.40,647.42 L118.86,647.42 L119.32,647.42 L119.78,647.42 L120.24,647.42 L120.70,647.42 L121.16,647.42 L121.62,647.42 L122.08,647.42 L122.54,647.42 L122.99,647.42 L123.45,647.42 L123.91,647.42 L124.37,647.42 L124.83,647.43 L125.29,647.43 L125.75,647.43 L126.21,647.43 L126.67,647.43 L127.13,647.43 L127.59,647.43 L128.05,647.43 L128.51,647.43 L128.97,647.43 L129.43,647.43 L129.89,647.43 L130.35,647.43 L130.81,647.43 L131.27,647.42 L131.73,647.42 L132.19,647.42 L132.65,647.42 L133.11,647.42 L133.57,647.42 L134.03,647.42 L134.49,647.42 L134.95,647.42 L135.41,647.42 L135.87,647.42 L136.33,647.42 L136.79,647.42 L137.25,647.42 L137.71,647.42 L138.17,647.42 L138.63,647.42 L139.09,647.42 L139.55,647.42 L140.01,647.42 L140.47,647.42 L140.93,647.42 L141.39,647.42 L141.85,647.42 L142.31,647.42 L142.77,647.42 L143.23,647.42 L143.69,647.42 L144.15,647.42 L144.61,647.42 L145.07,647.42 L145.53,647.42 L145.98,647.42 L146.44,647.42 L146.90,647.42 L147.36,647.41 L147.82,647.41 L148.28,647.41 L148.74,647.41 L149.20,647.41 L149.66,647.41 L150.12,647.41 L150.58,647.41 L151.04,647.41 L151.50,647.41 L151.96,647.41 L152.42,647.41 L152.88,647.40 L153.34,647.40 L153.80,647.40 L154.26,647.40 L154.72,647.40 L155.18,647.40 L155.64,647.40 L156.10,647.40 L156.56,647.39 L157.02,647.39 L157.48,647.39 L157.94,647.39 L158.40,647.39 L158.86,647.39 L159.32,647.39 L159.78,647.38 L160.24,647.38 L160.70,647.38 L161.16,647.38 L161.62,647.38 L162.08,647.37 L162.54,647.37 L163.00,647.37 L163.46,647.37 L163.92,647.36 L164.38,647.36 L164.84,647.36 L165.30,647.36 L165.76,647.35 L166.22,647.35 L166.68,647.35 L167.14,647.35 L167.60,647.34 L168.06,647.34 L168.52,647.34 L168.97,647.33 L169.43,647.33 L169.89,647.33 L170.35,647.32 L170.81,647.32 L171.27,647.32 L171.73,647.31 L172.19,647.31 L172.65,647.31 L173.11,647.30 L173.57,647.30 L174.03,647.29 L174.49,647.29 L174.95,647.29 L175.41,647.28 L175.87,647.28 L176.33,647.27 L176.79,647.27 L177.25,647.26 L177.71,647.26 L178.17,647.25 L178.63,647.25 L179.09,647.24 L179.55,647.24 L180.01,647.23 L180.47,647.23 L180.93,647.22 L181.39,647.21 L181.85,647.21 L182.31,647.20 L182.77,647.20 L183.23,647.19 L183.69,647.18 L184.15,647.18 L184.61,647.17 L185.07,647.16 L185.53,647.16 L185.99,647.15 L186.45,647.14 L186.91,647.13 L187.37,647.12 L187.83,647.11 L188.29,647.10 L188.75,647.08 L189.21,647.07 L189.67,647.05 L190.13,647.03" stroke="#8a8f96" stroke-width="1.15" fill="none"/>
<path d="M188.73,641.72 L190.87,641.72 L193.02,641.72 L195.16,641.72 L197.31,641.72 L199.45,641.71 L201.60,641.71 L203.74,641.71 L205.89,641.71 L208.04,641.71 L210.18,641.71 L212.33,641.71 L214.47,641.71 L216.62,641.70 L218.76,641.70 L220.91,641.70 L223.05,641.70 L225.20,641.69 L227.34,641.69 L229.49,641.69 L231.63,641.68 L233.78,641.68 L235.92,641.68 L238.07,641.67 L240.21,641.67 L242.36,641.66 L244.50,641.65 L246.65,641.65 L248.79,641.64 L250.94,641.63 L253.08,641.63 L255.23,641.62 L257.38,641.61 L259.52,641.60 L261.67,641.59 L263.81,641.58 L265.96,641.57 L268.10,641.56 L270.25,641.55 L272.39,641.54 L274.54,641.52 L276.68,641.51 L278.83,641.50 L280.97,641.48 L283.12,641.47 L285.26,641.45 L287.41,641.43 L289.55,641.42 L291.70,641.40 L293.84,641.38 L295.99,641.36 L298.13,641.34 L300.28,641.32 L302.43,641.29 L304.57,641.27 L306.72,641.25 L308.86,641.22 L311.01,641.20 L313.15,641.17 L315.30,641.14 L317.44,641.11 L319.59,641.08 L321.73,641.05 L323.88,641.02 L326.02,640.99 L328.17,640.95 L330.31,640.92 L332.46,640.88 L334.60,640.84 L336.75,640.81 L338.89,640.77 L341.04,640.72 L343.18,640.68 L345.33,640.64 L347.47,640.59 L349.62,640.55 L351.77,640.50 L353.91,640.45 L356.06,640.40 L358.20,640.35 L360.35,640.29 L362.49,640.24 L364.64,640.18 L366.78,640.12 L368.93,640.06 L371.07,640.00 L373.22,639.94 L375.36,639.87 L377.51,639.81 L379.65,639.74 L381.80,639.67 L383.94,639.60 L386.09,639.52 L388.23,639.45 L390.38,639.37 L392.52,639.29 L394.67,639.21 L396.82,639.13 L398.96,639.04 L401.11,638.96 L403.25,638.87 L405.40,638.78 L407.54,638.68 L409.69,638.59 L411.83,638.49 L413.98,638.39 L416.12,638.29 L418.27,638.18 L420.41,638.08 L422.56,637.97 L424.70,637.86 L426.85,637.74 L428.99,637.63 L431.14,637.51 L433.28,637.39 L435.43,637.26 L437.57,637.14 L439.72,637.01 L441.86,636.88 L444.01,636.74 L446.16,636.61 L448.30,636.47 L450.45,636.32 L452.59,636.17 L454.74,636.02 L456.88,635.85 L459.03,635.68 L461.17,635.49 L463.32,635.29 L465.46,635.07 L467.61,634.83 L469.75,634.56 L471.90,634.27 L474.04,633.94 L476.19,633.57 L478.33,633.17 L480.48,632.72 L482.62,632.21 L484.77,631.65 L486.91,631.03 L489.06,630.34 L491.21,629.58 L493.35,628.74 L495.50,627.82 L497.64,626.81 L499.79,625.69 L501.93,624.48 L504.08,623.15 L506.22,621.70 L508.37,620.13 L510.51,618.42 L512.66,616.57 L514.80,614.58 L516.95,612.42 L519.09,610.10 L521.24,607.61 L523.38,604.93 L525.53,602.06 L527.67,598.99 L529.82,595.71 L531.96,592.21 L534.11,588.48 L536.25,584.52 L538.40,580.30 M188.89,642.83 L190.82,642.83 L192.76,642.83 L194.69,642.83 L196.63,642.83 L198.56,642.83 L200.49,642.83 L202.43,642.83 L204.36,642.83 L206.30,642.82 L208.23,642.82 L210.17,642.82 L212.10,642.82 L214.04,642.82 L215.97,642.81 L217.91,642.81 L219.84,642.81 L221.78,642.80 L223.71,642.80 L225.65,642.80 L227.58,642.79 L229.52,642.79 L231.45,642.78 L233.38,642.78 L235.32,642.77 L237.25,642.77 L239.19,642.76 L241.12,642.75 L243.06,642.75 L244.99,642.74 L246.93,642.73 L248.86,642.72 L250.80,642.71 L252.73,642.71 L254.67,642.70 L256.60,642.69 L258.54,642.68 L260.47,642.67 L262.40,642.65 L264.34,642.64 L266.27,642.63 L268.21,642.62 L270.14,642.60 L272.08,642.59 L274.01,642.57 L275.95,642.56 L277.88,642.54 L279.82,642.53 L281.75,642.51 L283.69,642.49 L285.62,642.47 L287.56,642.45 L289.49,642.43 L291.42,642.41 L293.36,642.39 L295.29,642.37 L297.23,642.34 L299.16,642.32 L301.10,642.29 L303.03,642.27 L304.97,642.24 L306.90,642.21 L308.84,642.18 L310.77,642.15 L312.71,642.12 L314.64,642.09 L316.58,642.06 L318.51,642.03 L320.44,641.99 L322.38,641.96 L324.31,641.92 L326.25,641.88 L328.18,641.84 L330.12,641.80 L332.05,641.76 L333.99,641.72 L335.92,641.68 L337.86,641.63 L339.79,641.58 L341.73,641.54 L343.66,641.49 L345.60,641.44 L347.53,641.39 L349.46,641.34 L351.40,641.28 L353.33,641.23 L355.27,641.17 L357.20,641.11 L359.14,641.05 L361.07,640.99 L363.01,640.93 L364.94,640.86 L366.88,640.80 L368.81,640.73 L370.75,640.66 L372.68,640.59 L374.62,640.52 L376.55,640.44 L378.48,640.37 L380.42,640.29 L382.35,640.21 L384.29,640.13 L386.22,640.05 L388.16,639.96 L390.09,639.87 L392.03,639.79 L393.96,639.70 L395.90,639.60 L397.83,639.51 L399.77,639.41 L401.70,639.31 L403.64,639.21 L405.57,639.11 L407.51,639.00 L409.44,638.90 L411.37,638.79 L413.31,638.68 L415.24,638.56 L417.18,638.45 L419.11,638.32 L421.05,638.20 L422.98,638.07 L424.92,637.92 L426.85,637.77 L428.79,637.61 L430.72,637.43 L432.66,637.23 L434.59,637.02 L436.53,636.78 L438.46,636.51 L440.39,636.21 L442.33,635.88 L444.26,635.51 L446.20,635.10 L448.13,634.65 L450.07,634.14 L452.00,633.58 L453.94,632.97 L455.87,632.28 L457.81,631.53 L459.74,630.71 L461.68,629.80 L463.61,628.81 L465.55,627.73 L467.48,626.55 L469.41,625.28 L471.35,623.89 L473.28,622.38 L475.22,620.76 L477.15,619.01 L479.09,617.12 L481.02,615.09 L482.96,612.91 L484.89,610.58 L486.83,608.08 L488.76,605.42 L490.70,602.57 L492.63,599.54 L494.57,596.31 L496.50,592.88 M189.20,643.82 L190.93,643.82 L192.65,643.82 L194.38,643.82 L196.11,643.82 L197.83,643.81 L199.56,643.81 L201.28,643.81 L203.01,643.81 L204.74,643.81 L206.46,643.80 L208.19,643.80 L209.92,643.80 L211.64,643.80 L213.37,643.79 L215.10,643.79 L216.82,643.79 L218.55,643.78 L220.28,643.78 L222.00,643.77 L223.73,643.77 L225.46,643.77 L227.18,643.76 L228.91,643.75 L230.64,643.75 L232.36,643.74 L234.09,643.74 L235.82,643.73 L237.54,643.72 L239.27,643.71 L241.00,643.71 L242.72,643.70 L244.45,643.69 L246.18,643.68 L247.90,643.67 L249.63,643.66 L251.36,643.65 L253.08,643.64 L254.81,643.63 L256.54,643.62 L258.26,643.60 L259.99,643.59 L261.72,643.58 L263.44,643.56 L265.17,643.55 L266.90,643.54 L268.62,643.52 L270.35,643.50 L272.08,643.49 L273.80,643.47 L275.53,643.45 L277.26,643.43 L278.98,643.41 L280.71,643.39 L282.44,643.37 L284.16,643.35 L285.89,643.33 L287.62,643.31 L289.34,643.28 L291.07,643.26 L292.80,643.23 L294.52,643.21 L296.25,643.18 L297.98,643.15 L299.70,643.13 L301.43,643.10 L303.16,643.07 L304.88,643.03 L306.61,643.00 L308.34,642.97 L310.06,642.94 L311.79,642.90 L313.52,642.87 L315.24,642.83 L316.97,642.79 L318.70,642.75 L320.42,642.71 L322.15,642.67 L323.88,642.63 L325.60,642.59 L327.33,642.54 L329.06,642.50 L330.78,642.45 L332.51,642.40 L334.24,642.36 L335.96,642.31 L337.69,642.25 L339.42,642.20 L341.14,642.15 L342.87,642.09 L344.60,642.04 L346.32,641.98 L348.05,641.92 L349.78,641.86 L351.50,641.80 L353.23,641.73 L354.96,641.67 L356.68,641.60 L358.41,641.54 L360.14,641.47 L361.86,641.40 L363.59,641.32 L365.32,641.25 L367.04,641.18 L368.77,641.10 L370.49,641.02 L372.22,640.94 L373.95,640.86 L375.67,640.77 L377.40,640.69 L379.13,640.60 L380.85,640.51 L382.58,640.42 L384.31,640.33 L386.03,640.23 L387.76,640.13 L389.49,640.03 L391.21,639.91 L392.94,639.79 L394.67,639.66 L396.39,639.52 L398.12,639.36 L399.85,639.19 L401.57,639.00 L403.30,638.79 L405.03,638.55 L406.75,638.29 L408.48,637.99 L410.21,637.67 L411.93,637.30 L413.66,636.90 L415.39,636.46 L417.11,635.96 L418.84,635.42 L420.57,634.82 L422.29,634.16 L424.02,633.44 L425.75,632.66 L427.47,631.80 L429.20,630.86 L430.93,629.84 L432.65,628.73 L434.38,627.54 L436.11,626.24 L437.83,624.85 L439.56,623.34 L441.29,621.73 L443.01,619.99 L444.74,618.13 L446.47,616.15 L448.19,614.02 L449.92,611.75 L451.65,609.34 L453.37,606.77 L455.10,604.04 M188.72,644.71 L190.23,644.71 L191.75,644.71 L193.26,644.71 L194.77,644.70 L196.29,644.70 L197.80,644.70 L199.32,644.70 L200.83,644.70 L202.34,644.69 L203.86,644.69 L205.37,644.69 L206.89,644.69 L208.40,644.68 L209.91,644.68 L211.43,644.67 L212.94,644.67 L214.46,644.67 L215.97,644.66 L217.48,644.66 L219.00,644.65 L220.51,644.65 L222.03,644.64 L223.54,644.64 L225.06,644.63 L226.57,644.62 L228.08,644.62 L229.60,644.61 L231.11,644.60 L232.63,644.59 L234.14,644.59 L235.65,644.58 L237.17,644.57 L238.68,644.56 L240.20,644.55 L241.71,644.54 L243.22,644.53 L244.74,644.52 L246.25,644.51 L247.77,644.50 L249.28,644.49 L250.79,644.47 L252.31,644.46 L253.82,644.45 L255.34,644.43 L256.85,644.42 L258.36,644.40 L259.88,644.39 L261.39,644.37 L262.91,644.36 L264.42,644.34 L265.94,644.32 L267.45,644.30 L268.96,644.28 L270.48,644.27 L271.99,644.25 L273.51,644.23 L275.02,644.20 L276.53,644.18 L278.05,644.16 L279.56,644.14 L281.08,644.11 L282.59,644.09 L284.10,644.06 L285.62,644.04 L287.13,644.01 L288.65,643.98 L290.16,643.95 L291.67,643.93 L293.19,643.90 L294.70,643.87 L296.22,643.83 L297.73,643.80 L299.24,643.77 L300.76,643.73 L302.27,643.70 L303.79,643.66 L305.30,643.63 L306.82,643.59 L308.33,643.55 L309.84,643.51 L311.36,643.47 L312.87,643.43 L314.39,643.39 L315.90,643.35 L317.41,643.30 L318.93,643.26 L320.44,643.21 L321.96,643.16 L323.47,643.11 L324.98,643.06 L326.50,643.01 L328.01,642.96 L329.53,642.91 L331.04,642.85 L332.55,642.80 L334.07,642.74 L335.58,642.68 L337.10,642.62 L338.61,642.56 L340.12,642.50 L341.64,642.44 L343.15,642.37 L344.67,642.31 L346.18,642.24 L347.69,642.17 L349.21,642.10 L350.72,642.03 L352.24,641.96 L353.75,641.88 L355.27,641.80 L356.78,641.71 L358.29,641.62 L359.81,641.52 L361.32,641.41 L362.84,641.29 L364.35,641.16 L365.86,641.01 L367.38,640.85 L368.89,640.66 L370.41,640.46 L371.92,640.24 L373.43,639.98 L374.95,639.71 L376.46,639.40 L377.98,639.05 L379.49,638.68 L381.00,638.26 L382.52,637.80 L384.03,637.29 L385.55,636.74 L387.06,636.13 L388.57,635.47 L390.09,634.75 L391.60,633.97 L393.12,633.12 L394.63,632.20 L396.15,631.20 L397.66,630.13 L399.17,628.97 L400.69,627.73 L402.20,626.40 L403.72,624.97 L405.23,623.44 L406.74,621.80 L408.26,620.06 L409.77,618.20 L411.29,616.23 L412.80,614.13 M189.59,645.48 L190.89,645.48 L192.19,645.47 L193.49,645.47 L194.80,645.47 L196.10,645.47 L197.40,645.46 L198.70,645.46 L200.00,645.46 L201.30,645.45 L202.61,645.45 L203.91,645.45 L205.21,645.44 L206.51,645.44 L207.81,645.44 L209.11,645.43 L210.41,645.43 L211.72,645.42 L213.02,645.42 L214.32,645.41 L215.62,645.41 L216.92,645.40 L218.22,645.39 L219.53,645.39 L220.83,645.38 L222.13,645.37 L223.43,645.37 L224.73,645.36 L226.03,645.35 L227.33,645.34 L228.64,645.33 L229.94,645.32 L231.24,645.32 L232.54,645.31 L233.84,645.30 L235.14,645.29 L236.44,645.28 L237.75,645.26 L239.05,645.25 L240.35,645.24 L241.65,645.23 L242.95,645.22 L244.25,645.20 L245.56,645.19 L246.86,645.18 L248.16,645.16 L249.46,645.15 L250.76,645.13 L252.06,645.12 L253.36,645.10 L254.67,645.08 L255.97,645.07 L257.27,645.05 L258.57,645.03 L259.87,645.01 L261.17,644.99 L262.47,644.97 L263.78,644.95 L265.08,644.93 L266.38,644.91 L267.68,644.89 L268.98,644.87 L270.28,644.84 L271.59,644.82 L272.89,644.80 L274.19,644.77 L275.49,644.74 L276.79,644.72 L278.09,644.69 L279.39,644.66 L280.70,644.63 L282.00,644.61 L283.30,644.58 L284.60,644.55 L285.90,644.51 L287.20,644.48 L288.51,644.45 L289.81,644.42 L291.11,644.38 L292.41,644.35 L293.71,644.31 L295.01,644.27 L296.31,644.24 L297.62,644.20 L298.92,644.16 L300.22,644.12 L301.52,644.08 L302.82,644.04 L304.12,643.99 L305.42,643.95 L306.73,643.90 L308.03,643.86 L309.33,643.81 L310.63,643.76 L311.93,643.72 L313.23,643.67 L314.54,643.62 L315.84,643.56 L317.14,643.51 L318.44,643.46 L319.74,643.40 L321.04,643.34 L322.34,643.28 L323.65,643.21 L324.95,643.13 L326.25,643.05 L327.55,642.96 L328.85,642.86 L330.15,642.76 L331.45,642.64 L332.76,642.50 L334.06,642.35 L335.36,642.18 L336.66,642.00 L337.96,641.79 L339.26,641.56 L340.57,641.31 L341.87,641.03 L343.17,640.72 L344.47,640.38 L345.77,640.01 L347.07,639.60 L348.37,639.15 L349.68,638.66 L350.98,638.13 L352.28,637.55 L353.58,636.92 L354.88,636.24 L356.18,635.51 L357.48,634.72 L358.79,633.86 L360.09,632.94 L361.39,631.96 L362.69,630.90 L363.99,629.77 L365.29,628.56 L366.60,627.28 L367.90,625.90 L369.20,624.44 L370.50,622.89 M189.80,646.13 L190.88,646.12 L191.97,646.12 L193.06,646.12 L194.15,646.11 L195.23,646.11 L196.32,646.11 L197.41,646.10 L198.49,646.10 L199.58,646.09 L200.67,646.09 L201.76,646.09 L202.84,646.08 L203.93,646.08 L205.02,646.07 L206.11,646.07 L207.19,646.06 L208.28,646.05 L209.37,646.05 L210.46,646.04 L211.54,646.04 L212.63,646.03 L213.72,646.02 L214.81,646.01 L215.89,646.01 L216.98,646.00 L218.07,645.99 L219.16,645.98 L220.24,645.98 L221.33,645.97 L222.42,645.96 L223.51,645.95 L224.59,645.94 L225.68,645.93 L226.77,645.92 L227.86,645.91 L228.94,645.90 L230.03,645.89 L231.12,645.87 L232.21,645.86 L233.29,645.85 L234.38,645.84 L235.47,645.82 L236.56,645.81 L237.64,645.80 L238.73,645.78 L239.82,645.77 L240.91,645.75 L241.99,645.74 L243.08,645.72 L244.17,645.71 L245.25,645.69 L246.34,645.67 L247.43,645.65 L248.52,645.64 L249.60,645.62 L250.69,645.60 L251.78,645.58 L252.87,645.56 L253.95,645.54 L255.04,645.52 L256.13,645.50 L257.22,645.48 L258.30,645.45 L259.39,645.43 L260.48,645.41 L261.57,645.38 L262.65,645.36 L263.74,645.33 L264.83,645.31 L265.92,645.28 L267.00,645.26 L268.09,645.23 L269.18,645.20 L270.27,645.17 L271.35,645.14 L272.44,645.11 L273.53,645.08 L274.62,645.05 L275.70,645.02 L276.79,644.99 L277.88,644.95 L278.97,644.92 L280.05,644.88 L281.14,644.85 L282.23,644.81 L283.32,644.78 L284.40,644.74 L285.49,644.70 L286.58,644.66 L287.66,644.61 L288.75,644.56 L289.84,644.51 L290.93,644.46 L292.01,644.39 L293.10,644.32 L294.19,644.25 L295.28,644.16 L296.36,644.07 L297.45,643.97 L298.54,643.85 L299.63,643.72 L300.71,643.58 L301.80,643.42 L302.89,643.24 L303.98,643.04 L305.06,642.83 L306.15,642.59 L307.24,642.33 L308.33,642.05 L309.41,641.73 L310.50,641.39 L311.59,641.02 L312.68,640.62 L313.76,640.18 L314.85,639.70 L315.94,639.19 L317.03,638.64 L318.11,638.04 L319.20,637.40 L320.29,636.71 L321.38,635.97 L322.46,635.18 L323.55,634.34 L324.64,633.44 L325.73,632.48 L326.81,631.46 L327.90,630.38 M189.74,646.64 L190.61,646.64 L191.48,646.64 L192.35,646.63 L193.22,646.63 L194.09,646.62 L194.96,646.62 L195.83,646.61 L196.70,646.61 L197.57,646.60 L198.43,646.60 L199.30,646.59 L200.17,646.59 L201.04,646.58 L201.91,646.57 L202.78,646.57 L203.65,646.56 L204.52,646.55 L205.39,646.55 L206.26,646.54 L207.13,646.53 L208.00,646.53 L208.87,646.52 L209.74,646.51 L210.61,646.50 L211.47,646.49 L212.34,646.48 L213.21,646.47 L214.08,646.47 L214.95,646.46 L215.82,646.45 L216.69,646.44 L217.56,646.43 L218.43,646.41 L219.30,646.40 L220.17,646.39 L221.04,646.38 L221.91,646.37 L222.78,646.36 L223.65,646.35 L224.52,646.33 L225.38,646.32 L226.25,646.31 L227.12,646.29 L227.99,646.28 L228.86,646.26 L229.73,646.25 L230.60,646.23 L231.47,646.22 L232.34,646.20 L233.21,646.19 L234.08,646.17 L234.95,646.15 L235.82,646.14 L236.69,646.12 L237.56,646.10 L238.42,646.08 L239.29,646.06 L240.16,646.05 L241.03,646.03 L241.90,646.01 L242.77,645.99 L243.64,645.97 L244.51,645.94 L245.38,645.92 L246.25,645.90 L247.12,645.88 L247.99,645.86 L248.86,645.83 L249.73,645.81 L250.60,645.78 L251.46,645.75 L252.33,645.73 L253.20,645.70 L254.07,645.66 L254.94,645.63 L255.81,645.59 L256.68,645.54 L257.55,645.49 L258.42,645.44 L259.29,645.38 L260.16,645.31 L261.03,645.24 L261.90,645.16 L262.77,645.06 L263.64,644.96 L264.51,644.85 L265.37,644.72 L266.24,644.59 L267.11,644.44 L267.98,644.27 L268.85,644.09 L269.72,643.89 L270.59,643.67 L271.46,643.43 L272.33,643.17 L273.20,642.89 L274.07,642.59 L274.94,642.26 L275.81,641.91 L276.68,641.53 L277.55,641.12 L278.41,640.68 L279.28,640.21 L280.15,639.70 L281.02,639.16 L281.89,638.59 L282.76,637.98 L283.63,637.32 L284.50,636.63 M189.67,647.05 L190.13,647.03 L190.59,647.01 L191.05,646.99 L191.51,646.96 L191.96,646.93 L192.42,646.90 L192.88,646.87 L193.34,646.83 L193.80,646.79 L194.26,646.74 L194.72,646.69 L195.18,646.63 L195.64,646.57 L196.10,646.51 L196.56,646.43 L197.02,646.35 L197.48,646.27 L197.94,646.18 L198.40,646.08 L198.86,645.97 L199.32,645.86 L199.78,645.74 L200.24,645.60 L200.70,645.46 L201.16,645.31 L201.62,645.15 L202.08,644.98 L202.54,644.80 L203.00,644.60" stroke="#000" stroke-width="1.1" fill="none"/>
<path d="M111.50,565.41 L115.78,564.42 L120.07,563.43 L124.35,562.43 L128.63,561.42 L132.92,560.42 L137.20,559.41 L141.48,558.41 L145.77,557.40 L150.05,556.39 L154.33,555.38 L158.62,554.38 L162.90,553.37 L167.18,552.37 L171.47,551.37 L175.75,550.37 L180.03,549.38 L184.32,548.39 L188.60,547.41 L192.88,546.43 L197.17,545.46 L201.45,544.49 L205.73,543.53 L205.73,543.53" stroke="#6580a8" stroke-width="0.95" fill="none"/>
<path d="M111.50,565.41 L115.78,564.42 L120.07,563.43 L124.35,562.43 L128.63,561.42 L132.92,560.42 L137.20,559.41 L141.48,558.41 L145.77,557.40 L150.05,556.39 L154.33,555.38 L158.62,554.38 L162.90,553.37 L167.18,552.37 L171.47,551.37 L175.75,550.37 L180.03,549.38 L184.32,548.39 L188.60,547.41 L192.88,546.43 L197.17,545.46 L201.45,544.49 L205.73,543.53 L205.73,543.53" stroke="#154a8a" stroke-width="1.05" stroke-dasharray="1.6 3.7" fill="none"/>
<path d="M205.73,543.53 205.73,543.53 L210.02,542.58 L214.30,541.64 L218.58,540.71 L222.87,539.79 L227.15,538.88 L231.43,537.97 L235.72,537.09 L240.00,536.21 L244.28,535.34 L248.57,534.49 L252.85,533.66 L257.13,532.83 L261.42,532.03 L265.70,531.23 L269.98,530.46 L274.27,529.70 L278.55,528.95 L282.83,528.23 L287.11,527.52 L291.40,526.84 L295.68,526.17 L299.96,525.53 L304.25,524.91 L308.53,524.31 L312.81,523.73 L317.10,523.18 L321.38,522.64 L325.66,522.14 L329.95,521.65 L334.23,521.19 L338.51,520.75 L342.80,520.34 L347.08,519.94 L351.36,519.58 L355.65,519.23 L359.93,518.91 L364.21,518.62 L368.50,518.35 L372.78,518.10 L377.06,517.87 L381.35,517.67 L385.63,517.49 L389.91,517.34 L394.20,517.20 L398.48,517.09 L402.76,517.00 L407.05,516.94 L411.33,516.89 L415.61,516.87 L419.90,516.86 L424.18,516.88 L428.46,516.92 L432.75,516.97 L437.03,517.05 L441.31,517.14 L445.60,517.25 L449.88,517.38 L454.16,517.52 L458.45,517.68 L462.73,517.85 L467.01,518.04 L471.30,518.24 L475.58,518.46 L479.86,518.69 L484.15,518.92 L488.43,519.17 L492.71,519.43 L497.00,519.69 L501.28,519.97 L505.56,520.25 L509.84,520.53 L514.13,520.81 L518.41,521.10 L522.69,521.39 L526.98,521.68 L531.26,521.97 L535.54,522.25 L538.40,522.43" stroke="#3f649a" stroke-width="1.0" fill="none"/>
<path d="M111.50,585.01 L115.36,584.40 L119.23,583.78 L123.09,583.15 L126.95,582.53 L130.82,581.89 L134.68,581.26 L138.54,580.62 L142.40,579.97 L146.27,579.33 L150.13,578.68 L153.99,578.02 L157.86,577.37 L161.72,576.71 L165.58,576.06 L169.44,575.40 L173.31,574.74 L177.17,574.09 L181.03,573.43 L184.90,572.78 L184.90,572.78" stroke="#6580a8" stroke-width="0.95" fill="none"/>
<path d="M111.50,585.01 L115.36,584.40 L119.23,583.78 L123.09,583.15 L126.95,582.53 L130.82,581.89 L134.68,581.26 L138.54,580.62 L142.40,579.97 L146.27,579.33 L150.13,578.68 L153.99,578.02 L157.86,577.37 L161.72,576.71 L165.58,576.06 L169.44,575.40 L173.31,574.74 L177.17,574.09 L181.03,573.43 L184.90,572.78 L184.90,572.78" stroke="#154a8a" stroke-width="1.05" stroke-dasharray="1.6 3.7" fill="none"/>
<path d="M184.90,572.78 184.90,572.78 L188.76,572.12 L192.62,571.47 L196.48,570.82 L200.35,570.18 L204.21,569.54 L208.07,568.90 L211.94,568.26 L215.80,567.63 L219.66,567.01 L223.52,566.39 L227.39,565.78 L231.25,565.17 L235.11,564.57 L238.98,563.98 L242.84,563.39 L246.70,562.82 L250.56,562.25 L254.43,561.69 L258.29,561.14 L262.15,560.60 L266.02,560.07 L269.88,559.55 L273.74,559.05 L277.60,558.56 L281.47,558.09 L285.33,557.63 L289.19,557.19 L293.06,556.77 L296.92,556.36 L300.78,555.97 L304.64,555.60 L308.51,555.24 L312.37,554.90 L316.23,554.58 L320.10,554.28 L323.96,553.99 L327.82,553.72 L331.68,553.47 L335.55,553.23 L339.41,553.02 L343.27,552.82 L347.14,552.64 L351.00,552.47 L354.86,552.32 L358.72,552.19 L362.59,552.08 L366.45,551.98 L370.31,551.90 L374.18,551.83 L378.04,551.78 L381.90,551.75 L385.76,551.73 L389.63,551.73 L393.49,551.74 L397.35,551.77 L401.22,551.81 L405.08,551.86 L408.94,551.93 L412.80,552.01 L416.67,552.11 L420.53,552.21 L424.39,552.33 L428.26,552.46 L432.12,552.60 L435.98,552.74 L439.84,552.90 L443.71,553.07 L447.57,553.24 L451.43,553.42 L455.30,553.61 L459.16,553.81 L463.02,554.01 L466.88,554.21 L470.75,554.42 L474.61,554.63 L478.47,554.84 L482.34,555.05 L486.20,555.26 L490.06,555.47 L493.92,555.68 L496.50,555.81" stroke="#3f649a" stroke-width="1.0" fill="none"/>
<path d="M111.50,607.12 L114.95,606.49 L118.40,605.85 L121.84,605.22 L125.29,604.60 L128.74,603.97 L132.19,603.34 L135.63,602.72 L139.08,602.10 L142.53,601.48 L145.98,600.87 L149.42,600.26 L152.87,599.65 L156.32,599.05 L159.77,598.45 L163.21,597.86 L166.66,597.27 L167.81,597.07" stroke="#6580a8" stroke-width="0.95" fill="none"/>
<path d="M111.50,607.12 L114.95,606.49 L118.40,605.85 L121.84,605.22 L125.29,604.60 L128.74,603.97 L132.19,603.34 L135.63,602.72 L139.08,602.10 L142.53,601.48 L145.98,600.87 L149.42,600.26 L152.87,599.65 L156.32,599.05 L159.77,598.45 L163.21,597.86 L166.66,597.27 L167.81,597.07" stroke="#154a8a" stroke-width="1.05" stroke-dasharray="1.6 3.7" fill="none"/>
<path d="M167.81,597.07 167.81,597.07 L171.26,596.49 L174.70,595.91 L178.15,595.34 L181.60,594.78 L185.05,594.22 L188.49,593.67 L191.94,593.13 L195.39,592.59 L198.84,592.06 L202.28,591.54 L205.73,591.03 L209.18,590.53 L212.63,590.03 L216.07,589.55 L219.52,589.07 L222.97,588.61 L226.42,588.15 L229.86,587.71 L233.31,587.28 L236.76,586.86 L240.21,586.44 L243.65,586.05 L247.10,585.66 L250.55,585.28 L254.00,584.92 L257.44,584.56 L260.89,584.22 L264.34,583.89 L267.79,583.57 L271.23,583.26 L274.68,582.96 L278.13,582.68 L281.58,582.40 L285.02,582.14 L288.47,581.89 L291.92,581.66 L295.37,581.43 L298.81,581.22 L302.26,581.02 L305.71,580.83 L309.16,580.66 L312.60,580.50 L316.05,580.35 L319.50,580.21 L322.95,580.08 L326.39,579.97 L329.84,579.87 L333.29,579.78 L336.74,579.70 L340.18,579.64 L343.63,579.58 L347.08,579.54 L350.53,579.51 L353.97,579.49 L357.42,579.48 L360.87,579.48 L364.32,579.49 L367.76,579.52 L371.21,579.55 L374.66,579.59 L378.11,579.64 L381.55,579.70 L385.00,579.77 L388.45,579.85 L391.90,579.94 L395.34,580.03 L398.79,580.13 L402.24,580.24 L405.69,580.35 L409.13,580.47 L412.58,580.60 L416.03,580.73 L419.48,580.86 L422.92,581.00 L426.37,581.15 L429.82,581.29 L433.27,581.44 L436.71,581.59 L440.16,581.74 L443.61,581.89 L447.06,582.04 L450.50,582.19 L453.95,582.34 L455.10,582.38" stroke="#3f649a" stroke-width="1.0" fill="none"/>
<path d="M111.50,620.38 L114.52,619.95 L117.55,619.52 L120.57,619.09 L123.59,618.67 L126.62,618.24 L129.64,617.82 L132.66,617.40 L135.69,616.98 L138.71,616.56 L141.73,616.15 L144.75,615.73 L147.78,615.32 L150.80,614.91 L153.82,614.51 L154.83,614.37" stroke="#6580a8" stroke-width="0.95" fill="none"/>
<path d="M111.50,620.38 L114.52,619.95 L117.55,619.52 L120.57,619.09 L123.59,618.67 L126.62,618.24 L129.64,617.82 L132.66,617.40 L135.69,616.98 L138.71,616.56 L141.73,616.15 L144.75,615.73 L147.78,615.32 L150.80,614.91 L153.82,614.51 L154.83,614.37" stroke="#154a8a" stroke-width="1.05" stroke-dasharray="1.6 3.7" fill="none"/>
<path d="M154.83,614.37 154.83,614.37 L157.85,613.97 L160.88,613.58 L163.90,613.18 L166.92,612.79 L169.95,612.41 L172.97,612.03 L175.99,611.65 L179.02,611.28 L182.04,610.91 L185.06,610.55 L188.09,610.19 L191.11,609.84 L194.13,609.49 L197.15,609.15 L200.18,608.82 L203.20,608.49 L206.22,608.17 L209.25,607.86 L212.27,607.55 L215.29,607.25 L218.32,606.96 L221.34,606.67 L224.36,606.40 L227.39,606.13 L230.41,605.87 L233.43,605.61 L236.45,605.37 L239.48,605.13 L242.50,604.90 L245.52,604.67 L248.55,604.46 L251.57,604.25 L254.59,604.05 L257.62,603.86 L260.64,603.67 L263.66,603.50 L266.69,603.33 L269.71,603.17 L272.73,603.02 L275.75,602.87 L278.78,602.74 L281.80,602.61 L284.82,602.50 L287.85,602.39 L290.87,602.28 L293.89,602.19 L296.92,602.11 L299.94,602.03 L302.96,601.96 L305.98,601.90 L309.01,601.85 L312.03,601.81 L315.05,601.77 L318.08,601.74 L321.10,601.72 L324.12,601.71 L327.15,601.70 L330.17,601.70 L333.19,601.71 L336.22,601.73 L339.24,601.75 L342.26,601.78 L345.28,601.81 L348.31,601.85 L351.33,601.90 L354.35,601.95 L357.38,602.01 L360.40,602.07 L363.42,602.14 L366.45,602.21 L369.47,602.29 L372.49,602.37 L375.52,602.45 L378.54,602.54 L381.56,602.63 L384.58,602.73 L387.61,602.82 L390.63,602.92 L393.65,603.02 L396.68,603.12 L399.70,603.23 L402.72,603.33 L405.75,603.43 L408.77,603.53 L411.79,603.63 L412.80,603.66" stroke="#3f649a" stroke-width="1.0" fill="none"/>
<path d="M111.50,629.99 L114.10,629.74 L116.70,629.48 L119.30,629.23 L121.90,628.97 L124.49,628.72 L127.09,628.47 L129.69,628.21 L132.29,627.96 L134.89,627.71 L137.49,627.46 L140.09,627.21 L142.68,626.96 L145.28,626.72 L146.15,626.63" stroke="#6580a8" stroke-width="0.95" fill="none"/>
<path d="M111.50,629.99 L114.10,629.74 L116.70,629.48 L119.30,629.23 L121.90,628.97 L124.49,628.72 L127.09,628.47 L129.69,628.21 L132.29,627.96 L134.89,627.71 L137.49,627.46 L140.09,627.21 L142.68,626.96 L145.28,626.72 L146.15,626.63" stroke="#154a8a" stroke-width="1.05" stroke-dasharray="1.6 3.7" fill="none"/>
<path d="M146.15,626.63 146.15,626.63 L148.75,626.39 L151.35,626.14 L153.95,625.90 L156.54,625.66 L159.14,625.43 L161.74,625.19 L164.34,624.96 L166.94,624.72 L169.54,624.50 L172.14,624.27 L174.73,624.05 L177.33,623.83 L179.93,623.61 L182.53,623.40 L185.13,623.19 L187.73,622.98 L190.33,622.78 L192.93,622.58 L195.52,622.38 L198.12,622.19 L200.72,622.00 L203.32,621.82 L205.92,621.64 L208.52,621.46 L211.12,621.29 L213.71,621.13 L216.31,620.97 L218.91,620.81 L221.51,620.66 L224.11,620.51 L226.71,620.37 L229.31,620.23 L231.91,620.10 L234.50,619.97 L237.10,619.85 L239.70,619.73 L242.30,619.62 L244.90,619.52 L247.50,619.41 L250.10,619.32 L252.69,619.23 L255.29,619.14 L257.89,619.06 L260.49,618.99 L263.09,618.92 L265.69,618.85 L268.29,618.79 L270.88,618.74 L273.48,618.69 L276.08,618.65 L278.68,618.61 L281.28,618.58 L283.88,618.55 L286.48,618.53 L289.08,618.51 L291.67,618.49 L294.27,618.49 L296.87,618.48 L299.47,618.48 L302.07,618.49 L304.67,618.50 L307.27,618.51 L309.86,618.53 L312.46,618.55 L315.06,618.58 L317.66,618.61 L320.26,618.64 L322.86,618.68 L325.46,618.72 L328.06,618.76 L330.65,618.81 L333.25,618.86 L335.85,618.91 L338.45,618.96 L341.05,619.02 L343.65,619.07 L346.25,619.13 L348.84,619.20 L351.44,619.26 L354.04,619.32 L356.64,619.39 L359.24,619.45 L361.84,619.51 L364.44,619.58 L367.04,619.64 L369.63,619.70 L370.50,619.73" stroke="#3f649a" stroke-width="1.0" fill="none"/>
<path d="M111.50,637.90 L113.67,637.73 L115.84,637.55 L118.01,637.38 L120.19,637.21 L122.36,637.04 L124.53,636.87 L126.70,636.70 L128.87,636.53 L131.04,636.36 L133.21,636.19 L135.38,636.03 L137.56,635.86 L139.73,635.70 L140.45,635.65" stroke="#6580a8" stroke-width="0.95" fill="none"/>
<path d="M111.50,637.90 L113.67,637.73 L115.84,637.55 L118.01,637.38 L120.19,637.21 L122.36,637.04 L124.53,636.87 L126.70,636.70 L128.87,636.53 L131.04,636.36 L133.21,636.19 L135.38,636.03 L137.56,635.86 L139.73,635.70 L140.45,635.65" stroke="#154a8a" stroke-width="1.05" stroke-dasharray="1.6 3.7" fill="none"/>
<path d="M140.45,635.65 140.45,635.65 L142.62,635.49 L144.79,635.33 L146.96,635.17 L149.14,635.02 L151.31,634.86 L153.48,634.71 L155.65,634.56 L157.82,634.41 L159.99,634.27 L162.16,634.13 L164.33,633.98 L166.51,633.85 L168.68,633.71 L170.85,633.58 L173.02,633.45 L175.19,633.32 L177.36,633.19 L179.53,633.07 L181.70,632.95 L183.88,632.83 L186.05,632.72 L188.22,632.61 L190.39,632.50 L192.56,632.40 L194.73,632.30 L196.90,632.20 L199.07,632.11 L201.25,632.02 L203.42,631.93 L205.59,631.84 L207.76,631.76 L209.93,631.68 L212.10,631.60 L214.27,631.53 L216.44,631.46 L218.61,631.39 L220.79,631.32 L222.96,631.26 L225.13,631.20 L227.30,631.15 L229.47,631.09 L231.64,631.04 L233.81,631.00 L235.98,630.95 L238.16,630.91 L240.33,630.87 L242.50,630.84 L244.67,630.81 L246.84,630.78 L249.01,630.75 L251.18,630.73 L253.35,630.71 L255.53,630.70 L257.70,630.68 L259.87,630.67 L262.04,630.67 L264.21,630.66 L266.38,630.66 L268.55,630.66 L270.72,630.66 L272.90,630.67 L275.07,630.68 L277.24,630.69 L279.41,630.70 L281.58,630.71 L283.75,630.73 L285.92,630.75 L288.09,630.77 L290.27,630.79 L292.44,630.82 L294.61,630.85 L296.78,630.88 L298.95,630.91 L301.12,630.94 L303.29,630.97 L305.46,631.00 L307.64,631.04 L309.81,631.07 L311.98,631.11 L314.15,631.15 L316.32,631.19 L318.49,631.22 L320.66,631.26 L322.83,631.30 L325.01,631.33 L327.18,631.37 L327.90,631.38" stroke="#3f649a" stroke-width="1.0" fill="none"/>
<path d="M111.50,642.31 L113.24,642.24 L114.97,642.17 L116.71,642.10 L118.44,642.03 L120.18,641.96 L121.92,641.88 L123.65,641.81 L125.39,641.74 L127.12,641.67 L128.86,641.60 L130.59,641.53 L132.33,641.46 L134.07,641.39 L135.80,641.32 L136.38,641.30" stroke="#6580a8" stroke-width="0.95" fill="none"/>
<path d="M111.50,642.31 L113.24,642.24 L114.97,642.17 L116.71,642.10 L118.44,642.03 L120.18,641.96 L121.92,641.88 L123.65,641.81 L125.39,641.74 L127.12,641.67 L128.86,641.60 L130.59,641.53 L132.33,641.46 L134.07,641.39 L135.80,641.32 L136.38,641.30" stroke="#154a8a" stroke-width="1.05" stroke-dasharray="1.6 3.7" fill="none"/>
<path d="M136.38,641.30 136.38,641.30 L138.12,641.23 L139.85,641.16 L141.59,641.10 L143.32,641.03 L145.06,640.96 L146.80,640.89 L148.53,640.83 L150.27,640.76 L152.00,640.70 L153.74,640.63 L155.47,640.57 L157.21,640.51 L158.95,640.45 L160.68,640.38 L162.42,640.32 L164.15,640.27 L165.89,640.21 L167.62,640.15 L169.36,640.09 L171.10,640.04 L172.83,639.99 L174.57,639.93 L176.30,639.88 L178.04,639.83 L179.77,639.78 L181.51,639.73 L183.25,639.69 L184.98,639.64 L186.72,639.60 L188.45,639.56 L190.19,639.51 L191.93,639.48 L193.66,639.44 L195.40,639.40 L197.13,639.37 L198.87,639.33 L200.60,639.30 L202.34,639.27 L204.08,639.24 L205.81,639.21 L207.55,639.19 L209.28,639.17 L211.02,639.14 L212.75,639.12 L214.49,639.10 L216.23,639.09 L217.96,639.07 L219.70,639.06 L221.43,639.04 L223.17,639.03 L224.91,639.02 L226.64,639.01 L228.38,639.01 L230.11,639.00 L231.85,639.00 L233.58,638.99 L235.32,638.99 L237.06,638.99 L238.79,638.99 L240.53,639.00 L242.26,639.00 L244.00,639.01 L245.73,639.01 L247.47,639.02 L249.21,639.03 L250.94,639.04 L252.68,639.05 L254.41,639.06 L256.15,639.08 L257.88,639.09 L259.62,639.10 L261.36,639.12 L263.09,639.14 L264.83,639.15 L266.56,639.17 L268.30,639.19 L270.04,639.21 L271.77,639.22 L273.51,639.24 L275.24,639.26 L276.98,639.28 L278.71,639.30 L280.45,639.32 L282.19,639.34 L283.92,639.36 L284.50,639.36" stroke="#3f649a" stroke-width="1.0" fill="none"/>
<path d="M111.50,646.89 L112.42,646.88 L113.34,646.87 L114.26,646.86 L115.17,646.85 L116.09,646.84 L117.01,646.83 L117.93,646.82 L118.85,646.81 L119.76,646.80 L120.68,646.79 L121.60,646.78 L122.52,646.77 L123.44,646.76 L124.35,646.75 L125.27,646.74 L126.19,646.73 L127.11,646.72 L128.03,646.71 L128.94,646.70 L129.86,646.69 L130.78,646.68 L131.70,646.67 L132.62,646.67 L132.62,646.67" stroke="#6580a8" stroke-width="0.95" fill="none"/>
<path d="M111.50,646.89 L112.42,646.88 L113.34,646.87 L114.26,646.86 L115.17,646.85 L116.09,646.84 L117.01,646.83 L117.93,646.82 L118.85,646.81 L119.76,646.80 L120.68,646.79 L121.60,646.78 L122.52,646.77 L123.44,646.76 L124.35,646.75 L125.27,646.74 L126.19,646.73 L127.11,646.72 L128.03,646.71 L128.94,646.70 L129.86,646.69 L130.78,646.68 L131.70,646.67 L132.62,646.67 L132.62,646.67" stroke="#154a8a" stroke-width="1.05" stroke-dasharray="1.6 3.7" fill="none"/>
<path d="M132.62,646.67 132.62,646.67 L133.53,646.66 L134.45,646.65 L135.37,646.64 L136.29,646.63 L137.21,646.62 L138.12,646.61 L139.04,646.60 L139.96,646.59 L140.88,646.59 L141.80,646.58 L142.71,646.57 L143.63,646.56 L144.55,646.55 L145.47,646.55 L146.39,646.54 L147.30,646.53 L148.22,646.52 L149.14,646.52 L150.06,646.51 L150.98,646.50 L151.90,646.50 L152.81,646.49 L153.73,646.49 L154.65,646.48 L155.57,646.47 L156.49,646.47 L157.40,646.46 L158.32,646.46 L159.24,646.45 L160.16,646.45 L161.08,646.45 L161.99,646.44 L162.91,646.44 L163.83,646.44 L164.75,646.43 L165.67,646.43 L166.58,646.43 L167.50,646.42 L168.42,646.42 L169.34,646.42 L170.26,646.42 L171.17,646.42 L172.09,646.42 L173.01,646.41 L173.93,646.41 L174.85,646.41 L175.76,646.41 L176.68,646.41 L177.60,646.41 L178.52,646.41 L179.44,646.41 L180.35,646.41 L181.27,646.41 L182.19,646.41 L183.11,646.42 L184.03,646.42 L184.95,646.42 L185.86,646.42 L186.78,646.42 L187.70,646.42 L188.62,646.43 L189.54,646.43 L190.45,646.43 L191.37,646.43 L192.29,646.43 L193.21,646.44 L194.13,646.44 L195.04,646.44 L195.96,646.45 L196.88,646.45 L197.80,646.45 L198.72,646.45 L199.63,646.46 L200.55,646.46 L201.47,646.46 L202.39,646.46 L203.00,646.47" stroke="#3f649a" stroke-width="1.0" fill="none"/>
<path d="M111.50,541.73 L115.78,540.55 L120.07,539.37 L124.35,538.18 L128.63,537.00 L132.92,535.81 L137.20,534.63 L141.48,533.45 L145.77,532.27 L150.05,531.09 L154.33,529.92 L158.62,528.75 L162.90,527.58 L167.18,526.42 L171.47,525.27 L175.75,524.12 L180.03,522.98 L184.32,521.85 L188.60,520.73 L192.88,519.62 L197.17,518.52 L201.45,517.43 L205.73,516.35 L210.02,515.28 L214.30,514.23 L218.58,513.19 L222.87,512.17 L227.15,511.16 L228.58,510.83" stroke="#6580a8" stroke-width="0.95" fill="none"/>
<path d="M111.50,541.73 L115.78,540.55 L120.07,539.37 L124.35,538.18 L128.63,537.00 L132.92,535.81 L137.20,534.63 L141.48,533.45 L145.77,532.27 L150.05,531.09 L154.33,529.92 L158.62,528.75 L162.90,527.58 L167.18,526.42 L171.47,525.27 L175.75,524.12 L180.03,522.98 L184.32,521.85 L188.60,520.73 L192.88,519.62 L197.17,518.52 L201.45,517.43 L205.73,516.35 L210.02,515.28 L214.30,514.23 L218.58,513.19 L222.87,512.17 L227.15,511.16 L228.58,510.83" stroke="#154a8a" stroke-width="1.05" stroke-dasharray="1.6 3.7" fill="none"/>
<path d="M228.58,510.83 228.58,510.83 L232.86,509.85 L237.14,508.88 L241.43,507.93 L245.71,507.00 L249.99,506.09 L254.28,505.20 L258.56,504.33 L262.84,503.48 L267.13,502.65 L271.41,501.85 L275.69,501.07 L279.98,500.31 L284.26,499.58 L288.54,498.87 L292.83,498.19 L297.11,497.53 L301.39,496.90 L305.68,496.30 L309.96,495.72 L314.24,495.17 L318.53,494.65 L322.81,494.16 L327.09,493.62 L331.38,493.03 L335.66,492.47 L339.94,491.95 L344.23,491.45 L348.51,490.98 L352.79,490.54 L357.08,490.13 L361.36,489.75 L365.64,489.39 L369.92,489.07 L374.21,488.77 L378.49,488.51 L382.77,488.27 L387.06,488.06 L391.34,487.88 L395.62,487.72 L399.91,487.60 L404.19,487.50 L408.47,487.43 L412.76,487.38 L417.04,487.36 L421.32,487.36 L425.61,487.39 L429.89,487.44 L434.17,487.52 L438.46,487.62 L442.74,487.74 L447.02,487.88 L451.31,488.04 L455.59,488.22 L459.87,488.43 L464.16,488.65 L468.44,488.88 L472.72,489.14 L477.01,489.40 L481.29,489.69 L485.57,489.98 L489.86,490.29 L494.14,490.61 L498.42,490.94 L502.71,491.27 L506.99,491.62 L511.27,491.96 L515.56,492.32 L519.84,492.67 L524.12,493.03 L528.41,493.38 L532.69,493.73 L536.97,494.07 L538.40,494.18" stroke="#154a8a" stroke-width="1.35" fill="none"/>
<path d="M111.50,569.28 L115.36,568.33 L119.23,567.37 L123.09,566.42 L126.95,565.46 L130.82,564.50 L134.68,563.55 L138.54,562.60 L142.40,561.64 L146.27,560.69 L150.13,559.75 L153.99,558.80 L157.86,557.86 L161.72,556.93 L165.58,555.99 L169.44,555.07 L173.31,554.15 L177.17,553.23 L181.03,552.32 L184.90,551.42 L188.76,550.53 L192.62,549.65 L196.48,548.77 L200.35,547.91 L202.92,547.34" stroke="#6580a8" stroke-width="0.95" fill="none"/>
<path d="M111.50,569.28 L115.36,568.33 L119.23,567.37 L123.09,566.42 L126.95,565.46 L130.82,564.50 L134.68,563.55 L138.54,562.60 L142.40,561.64 L146.27,560.69 L150.13,559.75 L153.99,558.80 L157.86,557.86 L161.72,556.93 L165.58,555.99 L169.44,555.07 L173.31,554.15 L177.17,553.23 L181.03,552.32 L184.90,551.42 L188.76,550.53 L192.62,549.65 L196.48,548.77 L200.35,547.91 L202.92,547.34" stroke="#154a8a" stroke-width="1.05" stroke-dasharray="1.6 3.7" fill="none"/>
<path d="M202.92,547.34 202.92,547.34 L206.79,546.49 L210.65,545.66 L214.51,544.83 L218.37,544.02 L222.24,543.22 L226.10,542.43 L229.96,541.66 L233.83,540.91 L237.69,540.16 L241.55,539.44 L245.41,538.73 L249.28,538.03 L253.14,537.36 L257.00,536.70 L260.87,536.06 L264.73,535.43 L268.59,534.83 L272.45,534.24 L276.32,533.68 L280.18,533.13 L284.04,532.61 L287.91,532.10 L291.77,531.62 L295.63,531.16 L299.49,530.71 L303.36,530.29 L307.22,529.84 L311.08,529.40 L314.95,528.99 L318.81,528.59 L322.67,528.22 L326.53,527.86 L330.40,527.54 L334.26,527.23 L338.12,526.94 L341.99,526.68 L345.85,526.44 L349.71,526.22 L353.57,526.03 L357.44,525.85 L361.30,525.70 L365.16,525.57 L369.03,525.46 L372.89,525.37 L376.75,525.30 L380.61,525.25 L384.48,525.22 L388.34,525.21 L392.20,525.22 L396.07,525.25 L399.93,525.30 L403.79,525.36 L407.65,525.44 L411.52,525.54 L415.38,525.65 L419.24,525.78 L423.11,525.93 L426.97,526.08 L430.83,526.26 L434.69,526.44 L438.56,526.64 L442.42,526.85 L446.28,527.07 L450.15,527.30 L454.01,527.53 L457.87,527.78 L461.73,528.03 L465.60,528.29 L469.46,528.55 L473.32,528.82 L477.19,529.09 L481.05,529.36 L484.91,529.63 L488.77,529.90 L492.64,530.17 L496.50,530.42 L496.50,530.42" stroke="#154a8a" stroke-width="1.35" fill="none"/>
<path d="M111.50,590.40 L114.95,589.65 L118.40,588.90 L121.84,588.15 L125.29,587.40 L128.74,586.64 L132.19,585.89 L135.63,585.14 L139.08,584.39 L142.53,583.63 L145.98,582.89 L149.42,582.14 L152.87,581.39 L156.32,580.65 L159.77,579.91 L163.21,579.17 L166.66,578.44 L170.11,577.71 L173.56,576.99 L177.00,576.27 L180.45,575.56 L182.75,575.09" stroke="#6580a8" stroke-width="0.95" fill="none"/>
<path d="M111.50,590.40 L114.95,589.65 L118.40,588.90 L121.84,588.15 L125.29,587.40 L128.74,586.64 L132.19,585.89 L135.63,585.14 L139.08,584.39 L142.53,583.63 L145.98,582.89 L149.42,582.14 L152.87,581.39 L156.32,580.65 L159.77,579.91 L163.21,579.17 L166.66,578.44 L170.11,577.71 L173.56,576.99 L177.00,576.27 L180.45,575.56 L182.75,575.09" stroke="#154a8a" stroke-width="1.05" stroke-dasharray="1.6 3.7" fill="none"/>
<path d="M182.75,575.09 182.75,575.09 L186.20,574.39 L189.64,573.69 L193.09,573.00 L196.54,572.32 L199.99,571.65 L203.43,570.99 L206.88,570.33 L210.33,569.68 L213.78,569.05 L217.22,568.42 L220.67,567.80 L224.12,567.20 L227.57,566.61 L231.01,566.02 L234.46,565.45 L237.91,564.90 L241.36,564.35 L244.80,563.82 L248.25,563.30 L251.70,562.80 L255.15,562.31 L258.59,561.83 L262.04,561.37 L265.49,560.92 L268.94,560.49 L272.38,560.08 L275.83,559.68 L279.28,559.30 L282.73,558.94 L286.17,558.59 L289.62,558.25 L293.07,557.94 L296.52,557.64 L299.96,557.36 L303.41,557.09 L306.86,556.84 L310.31,556.61 L313.75,556.39 L317.20,556.20 L320.65,556.02 L324.10,555.85 L327.54,555.70 L330.99,555.57 L334.44,555.45 L337.89,555.35 L341.33,555.27 L344.78,555.20 L348.23,555.15 L351.68,555.11 L355.12,555.09 L358.57,555.08 L362.02,555.09 L365.47,555.11 L368.91,555.15 L372.36,555.20 L375.81,555.26 L379.26,555.33 L382.70,555.42 L386.15,555.52 L389.60,555.62 L393.05,555.74 L396.49,555.87 L399.94,556.01 L403.39,556.16 L406.84,556.32 L410.28,556.49 L413.73,556.66 L417.18,556.84 L420.63,557.03 L424.07,557.22 L427.52,557.41 L430.97,557.61 L434.42,557.81 L437.86,558.02 L441.31,558.22 L444.76,558.43 L448.21,558.63 L451.65,558.83 L455.10,559.03 L455.10,559.03" stroke="#154a8a" stroke-width="1.35" fill="none"/>
<path d="M111.50,600.38 L114.52,600.11 L117.55,599.84 L120.57,599.55 L123.59,599.26 L126.62,598.96 L129.64,598.66 L132.66,598.35 L135.69,598.03 L138.71,597.71 L141.73,597.38 L144.75,597.04 L147.78,596.70 L150.80,596.35 L153.82,596.00 L156.85,595.64 L159.87,595.28 L162.89,594.92 L165.92,594.55 L168.94,594.18 L169.95,594.05" stroke="#6580a8" stroke-width="0.95" fill="none"/>
<path d="M111.50,600.38 L114.52,600.11 L117.55,599.84 L120.57,599.55 L123.59,599.26 L126.62,598.96 L129.64,598.66 L132.66,598.35 L135.69,598.03 L138.71,597.71 L141.73,597.38 L144.75,597.04 L147.78,596.70 L150.80,596.35 L153.82,596.00 L156.85,595.64 L159.87,595.28 L162.89,594.92 L165.92,594.55 L168.94,594.18 L169.95,594.05" stroke="#154a8a" stroke-width="1.05" stroke-dasharray="1.6 3.7" fill="none"/>
<path d="M169.95,594.05 169.95,594.05 L172.97,593.68 L175.99,593.30 L179.02,592.92 L182.04,592.54 L185.06,592.15 L188.09,591.77 L191.11,591.38 L194.13,591.00 L197.15,590.61 L200.18,590.22 L203.20,589.83 L206.22,589.45 L209.25,589.06 L212.27,588.68 L215.29,588.29 L218.32,587.91 L221.34,587.53 L224.36,587.15 L227.39,586.78 L230.41,586.40 L233.43,586.03 L236.45,585.67 L239.48,585.32 L242.50,584.98 L245.52,584.66 L248.55,584.34 L251.57,584.03 L254.59,583.74 L257.62,583.46 L260.64,583.19 L263.66,582.93 L266.69,582.68 L269.71,582.45 L272.73,582.23 L275.75,582.02 L278.78,581.82 L281.80,581.64 L284.82,581.46 L287.85,581.30 L290.87,581.16 L293.89,581.02 L296.92,580.90 L299.94,580.78 L302.96,580.68 L305.98,580.60 L309.01,580.52 L312.03,580.45 L315.05,580.40 L318.08,580.36 L321.10,580.33 L324.12,580.31 L327.15,580.30 L330.17,580.30 L333.19,580.31 L336.22,580.34 L339.24,580.37 L342.26,580.41 L345.28,580.46 L348.31,580.52 L351.33,580.59 L354.35,580.66 L357.38,580.75 L360.40,580.84 L363.42,580.94 L366.45,581.05 L369.47,581.16 L372.49,581.28 L375.52,581.40 L378.54,581.53 L381.56,581.67 L384.58,581.80 L387.61,581.95 L390.63,582.09 L393.65,582.24 L396.68,582.38 L399.70,582.53 L402.72,582.68 L405.75,582.83 L408.77,582.98 L411.79,583.12 L412.80,583.17" stroke="#154a8a" stroke-width="1.35" fill="none"/>
<path d="M111.50,613.41 L114.10,613.26 L116.70,613.10 L119.30,612.93 L121.90,612.75 L124.49,612.57 L127.09,612.39 L129.69,612.20 L132.29,612.00 L134.89,611.80 L137.49,611.59 L140.09,611.38 L142.68,611.16 L145.28,610.94 L147.88,610.71 L150.48,610.48 L153.08,610.25 L155.68,610.01 L158.28,609.77 L158.28,609.77" stroke="#6580a8" stroke-width="0.95" fill="none"/>
<path d="M111.50,613.41 L114.10,613.26 L116.70,613.10 L119.30,612.93 L121.90,612.75 L124.49,612.57 L127.09,612.39 L129.69,612.20 L132.29,612.00 L134.89,611.80 L137.49,611.59 L140.09,611.38 L142.68,611.16 L145.28,610.94 L147.88,610.71 L150.48,610.48 L153.08,610.25 L155.68,610.01 L158.28,609.77 L158.28,609.77" stroke="#154a8a" stroke-width="1.05" stroke-dasharray="1.6 3.7" fill="none"/>
<path d="M158.28,609.77 158.28,609.77 L160.88,609.52 L163.47,609.28 L166.07,609.03 L168.67,608.77 L171.27,608.52 L173.87,608.26 L176.47,608.00 L179.07,607.74 L181.66,607.48 L184.26,607.21 L186.86,606.95 L189.46,606.68 L192.06,606.41 L194.66,606.15 L197.26,605.88 L199.86,605.61 L202.45,605.35 L205.05,605.08 L207.65,604.81 L210.25,604.55 L212.85,604.28 L215.45,604.02 L218.05,603.76 L220.64,603.51 L223.24,603.27 L225.84,603.03 L228.44,602.81 L231.04,602.59 L233.64,602.38 L236.24,602.17 L238.83,601.98 L241.43,601.79 L244.03,601.62 L246.63,601.45 L249.23,601.29 L251.83,601.14 L254.43,600.99 L257.03,600.86 L259.62,600.73 L262.22,600.62 L264.82,600.51 L267.42,600.41 L270.02,600.32 L272.62,600.23 L275.22,600.16 L277.81,600.10 L280.41,600.04 L283.01,599.99 L285.61,599.95 L288.21,599.92 L290.81,599.89 L293.41,599.88 L296.01,599.87 L298.60,599.87 L301.20,599.87 L303.80,599.89 L306.40,599.91 L309.00,599.93 L311.60,599.97 L314.20,600.01 L316.79,600.05 L319.39,600.11 L321.99,600.16 L324.59,600.23 L327.19,600.30 L329.79,600.37 L332.39,600.45 L334.99,600.53 L337.58,600.62 L340.18,600.71 L342.78,600.80 L345.38,600.90 L347.98,601.00 L350.58,601.10 L353.18,601.21 L355.77,601.31 L358.37,601.42 L360.97,601.52 L363.57,601.63 L366.17,601.73 L368.77,601.83 L370.50,601.90" stroke="#154a8a" stroke-width="1.35" fill="none"/>
<path d="M111.50,623.39 L113.67,623.33 L115.84,623.26 L118.01,623.19 L120.19,623.12 L122.36,623.04 L124.53,622.95 L126.70,622.86 L128.87,622.76 L131.04,622.66 L133.21,622.56 L135.38,622.45 L137.56,622.33 L139.73,622.21 L141.90,622.09 L144.07,621.96 L146.24,621.83 L148.41,621.70 L149.86,621.61" stroke="#6580a8" stroke-width="0.95" fill="none"/>
<path d="M111.50,623.39 L113.67,623.33 L115.84,623.26 L118.01,623.19 L120.19,623.12 L122.36,623.04 L124.53,622.95 L126.70,622.86 L128.87,622.76 L131.04,622.66 L133.21,622.56 L135.38,622.45 L137.56,622.33 L139.73,622.21 L141.90,622.09 L144.07,621.96 L146.24,621.83 L148.41,621.70 L149.86,621.61" stroke="#154a8a" stroke-width="1.05" stroke-dasharray="1.6 3.7" fill="none"/>
<path d="M149.86,621.61 149.86,621.61 L152.03,621.47 L154.20,621.32 L156.37,621.18 L158.54,621.03 L160.72,620.87 L162.89,620.72 L165.06,620.56 L167.23,620.40 L169.40,620.24 L171.57,620.07 L173.74,619.91 L175.91,619.74 L178.09,619.57 L180.26,619.40 L182.43,619.22 L184.60,619.05 L186.77,618.88 L188.94,618.70 L191.11,618.52 L193.28,618.34 L195.46,618.17 L197.63,617.99 L199.80,617.81 L201.97,617.64 L204.14,617.47 L206.31,617.31 L208.48,617.15 L210.65,617.00 L212.82,616.85 L215.00,616.71 L217.17,616.58 L219.34,616.45 L221.51,616.33 L223.68,616.21 L225.85,616.10 L228.02,615.99 L230.19,615.89 L232.37,615.80 L234.54,615.71 L236.71,615.63 L238.88,615.56 L241.05,615.49 L243.22,615.42 L245.39,615.36 L247.56,615.31 L249.74,615.27 L251.91,615.22 L254.08,615.19 L256.25,615.16 L258.42,615.14 L260.59,615.12 L262.76,615.10 L264.93,615.10 L267.11,615.09 L269.28,615.10 L271.45,615.10 L273.62,615.12 L275.79,615.13 L277.96,615.16 L280.13,615.18 L282.30,615.21 L284.48,615.25 L286.65,615.28 L288.82,615.33 L290.99,615.37 L293.16,615.42 L295.33,615.47 L297.50,615.53 L299.67,615.59 L301.85,615.65 L304.02,615.71 L306.19,615.78 L308.36,615.85 L310.53,615.91 L312.70,615.98 L314.87,616.06 L317.04,616.13 L319.22,616.20 L321.39,616.27 L323.56,616.34 L325.73,616.41 L327.90,616.48 L327.90,616.48" stroke="#154a8a" stroke-width="1.35" fill="none"/>
<path d="M111.50,630.31 L113.24,630.32 L114.97,630.33 L116.71,630.33 L118.44,630.32 L120.18,630.32 L121.92,630.30 L123.65,630.28 L125.39,630.26 L127.12,630.24 L128.86,630.20 L130.59,630.17 L132.33,630.13 L134.07,630.08 L135.80,630.03 L137.54,629.98 L139.27,629.93 L141.01,629.87 L142.74,629.80 L144.48,629.73 L144.48,629.73" stroke="#6580a8" stroke-width="0.95" fill="none"/>
<path d="M111.50,630.31 L113.24,630.32 L114.97,630.33 L116.71,630.33 L118.44,630.32 L120.18,630.32 L121.92,630.30 L123.65,630.28 L125.39,630.26 L127.12,630.24 L128.86,630.20 L130.59,630.17 L132.33,630.13 L134.07,630.08 L135.80,630.03 L137.54,629.98 L139.27,629.93 L141.01,629.87 L142.74,629.80 L144.48,629.73 L144.48,629.73" stroke="#154a8a" stroke-width="1.05" stroke-dasharray="1.6 3.7" fill="none"/>
<path d="M144.48,629.73 144.48,629.73 L146.22,629.66 L147.95,629.59 L149.69,629.51 L151.42,629.43 L153.16,629.35 L154.90,629.26 L156.63,629.17 L158.37,629.08 L160.10,628.98 L161.84,628.89 L163.57,628.79 L165.31,628.68 L167.05,628.58 L168.78,628.47 L170.52,628.36 L172.25,628.25 L173.99,628.14 L175.72,628.02 L177.46,627.91 L179.20,627.79 L180.93,627.67 L182.67,627.55 L184.40,627.43 L186.14,627.32 L187.88,627.21 L189.61,627.11 L191.35,627.01 L193.08,626.91 L194.82,626.82 L196.55,626.73 L198.29,626.65 L200.03,626.56 L201.76,626.49 L203.50,626.41 L205.23,626.34 L206.97,626.28 L208.70,626.22 L210.44,626.16 L212.18,626.11 L213.91,626.06 L215.65,626.01 L217.38,625.97 L219.12,625.93 L220.85,625.90 L222.59,625.87 L224.33,625.84 L226.06,625.82 L227.80,625.80 L229.53,625.79 L231.27,625.77 L233.01,625.77 L234.74,625.76 L236.48,625.76 L238.21,625.76 L239.95,625.77 L241.68,625.78 L243.42,625.79 L245.16,625.81 L246.89,625.83 L248.63,625.85 L250.36,625.87 L252.10,625.90 L253.83,625.93 L255.57,625.96 L257.31,625.99 L259.04,626.03 L260.78,626.07 L262.51,626.11 L264.25,626.15 L265.99,626.19 L267.72,626.24 L269.46,626.28 L271.19,626.33 L272.93,626.38 L274.66,626.42 L276.40,626.47 L278.14,626.52 L279.87,626.57 L281.61,626.62 L283.34,626.66 L284.50,626.70" stroke="#154a8a" stroke-width="1.35" fill="none"/>
<path d="M111.50,641.27 L112.42,641.19 L113.34,641.10 L114.26,641.02 L115.17,640.93 L116.09,640.85 L117.01,640.76 L117.93,640.68 L118.85,640.59 L119.76,640.51 L120.68,640.42 L121.60,640.34 L122.52,640.25 L123.44,640.17 L124.35,640.08 L125.27,640.00 L126.19,639.92 L127.11,639.84 L128.03,639.75 L128.94,639.67 L129.86,639.59 L130.78,639.51 L131.70,639.43 L132.62,639.36 L133.53,639.28 L134.45,639.20 L135.37,639.13 L136.29,639.05 L137.21,638.98 L138.12,638.90 L138.12,638.90" stroke="#6580a8" stroke-width="0.95" fill="none"/>
<path d="M111.50,641.27 L112.42,641.19 L113.34,641.10 L114.26,641.02 L115.17,640.93 L116.09,640.85 L117.01,640.76 L117.93,640.68 L118.85,640.59 L119.76,640.51 L120.68,640.42 L121.60,640.34 L122.52,640.25 L123.44,640.17 L124.35,640.08 L125.27,640.00 L126.19,639.92 L127.11,639.84 L128.03,639.75 L128.94,639.67 L129.86,639.59 L130.78,639.51 L131.70,639.43 L132.62,639.36 L133.53,639.28 L134.45,639.20 L135.37,639.13 L136.29,639.05 L137.21,638.98 L138.12,638.90 L138.12,638.90" stroke="#154a8a" stroke-width="1.05" stroke-dasharray="1.6 3.7" fill="none"/>
<path d="M138.12,638.90 138.12,638.90 L139.04,638.83 L139.96,638.76 L140.88,638.69 L141.80,638.63 L142.71,638.56 L143.63,638.49 L144.55,638.43 L145.47,638.37 L146.39,638.31 L147.30,638.25 L148.22,638.19 L149.14,638.13 L150.06,638.08 L150.98,638.03 L151.90,637.98 L152.81,637.93 L153.73,637.88 L154.65,637.83 L155.57,637.79 L156.49,637.75 L157.40,637.71 L158.32,637.67 L159.24,637.63 L160.16,637.60 L161.08,637.56 L161.99,637.53 L162.91,637.50 L163.83,637.47 L164.75,637.45 L165.67,637.43 L166.58,637.40 L167.50,637.38 L168.42,637.37 L169.34,637.35 L170.26,637.34 L171.17,637.32 L172.09,637.31 L173.01,637.30 L173.93,637.30 L174.85,637.29 L175.76,637.29 L176.68,637.29 L177.60,637.29 L178.52,637.29 L179.44,637.29 L180.35,637.29 L181.27,637.30 L182.19,637.31 L183.11,637.32 L184.03,637.33 L184.95,637.34 L185.86,637.35 L186.78,637.37 L187.70,637.38 L188.62,637.40 L189.54,637.41 L190.45,637.43 L191.37,637.45 L192.29,637.47 L193.21,637.49 L194.13,637.51 L195.04,637.53 L195.96,637.56 L196.88,637.58 L197.80,637.60 L198.72,637.62 L199.63,637.65 L200.55,637.67 L201.47,637.69 L202.39,637.71 L203.00,637.73" stroke="#154a8a" stroke-width="1.35" fill="none"/>
<path d="M111.8,45 V427" stroke="#444" stroke-width="1.7" fill="none"/><path d="M580.9,45 V427" stroke="#6a6a6a" stroke-width="1.6" fill="none"/>
<path d="M111,45.5 H581" stroke="#8c8c8c" stroke-width="1" fill="none"/>
<path d="M111,426.8 H585" stroke="#777" stroke-width="1.6" fill="none"/>
<path d="M111.5,444.5 V648 M580.5,444.5 V648" stroke="#4d4d4d" stroke-width="1.6" fill="none"/>
<path d="M111,445 H581" stroke="#a0a0a0" stroke-width="1.2" fill="none"/>
<path d="M107,647.8 H585" stroke="#9a9a9a" stroke-width="1.4" fill="none"/>
<path d="M107,426.50 H111 M107,372.00 H111 M107,317.50 H111 M107,263.00 H111 M107,208.50 H111 M107,154.00 H111 M107,647.70 H111 M107,625.23 H111 M107,602.76 H111 M107,580.29 H111 M107,557.82 H111 M107,535.35 H111 M107,512.88 H111 M107,490.41 H111 M107,467.94 H111 M111.50,427 V431 M139.43,427 V431 M167.36,427 V431 M195.29,427 V431 M223.22,427 V431 M251.15,427 V431 M279.08,427 V431 M307.01,427 V431 M334.94,427 V431 M362.87,427 V431 M390.80,427 V431 M418.73,427 V431 M446.66,427 V431 M474.59,427 V431 M502.52,427 V431 M530.45,427 V431 M558.38,427 V431" stroke="#222" stroke-width="1" fill="none"/>
<path d="M581,426.50 H585 M581,372.00 H585 M581,317.50 H585 M581,263.00 H585 M581,208.50 H585 M581,154.00 H585 M581,99.50 H585 M581,647.70 H585 M581,625.23 H585 M581,602.76 H585 M581,580.29 H585 M581,557.82 H585 M581,535.35 H585 M581,512.88 H585 M581,490.41 H585 M581,467.94 H585" stroke="#666" stroke-width="1" fill="none"/>
<rect x="494" y="45.5" width="86.5" height="16" fill="#fff" stroke="#6a6a6a" stroke-width="1"/>
<g font-family="Liberation Sans, sans-serif"><text x="496.8" y="56" text-anchor="start" fill="#000" font-size="10.35">CME1-2, 3*400 V</text><text x="90" y="53" text-anchor="middle" fill="#000" font-size="10">H</text><text x="90" y="65" text-anchor="middle" fill="#000" font-size="10">[m]</text><text x="601.5" y="53" text-anchor="middle" fill="#000" font-size="10">eta</text><text x="601.5" y="65" text-anchor="middle" fill="#000" font-size="10">[%]</text><text x="87" y="452.5" text-anchor="middle" fill="#000" font-size="10">P</text><text x="86.5" y="464.5" text-anchor="middle" fill="#000" font-size="10">[W]</text><text x="608.7" y="453" text-anchor="middle" fill="#000" font-size="10">NPSH</text><text x="608.5" y="465" text-anchor="middle" fill="#000" font-size="10">[m]</text><text x="104" y="430.1" text-anchor="end" fill="#000" font-size="10">0</text><text x="104" y="375.6" text-anchor="end" fill="#000" font-size="10">5</text><text x="104" y="321.1" text-anchor="end" fill="#000" font-size="10">10</text><text x="104" y="266.6" text-anchor="end" fill="#000" font-size="10">15</text><text x="104" y="212.1" text-anchor="end" fill="#000" font-size="10">20</text><text x="104" y="157.6" text-anchor="end" fill="#000" font-size="10">25</text><text x="588" y="430.1" text-anchor="start" fill="#000" font-size="10">0</text><text x="588" y="375.6" text-anchor="start" fill="#000" font-size="10">10</text><text x="588" y="321.1" text-anchor="start" fill="#000" font-size="10">20</text><text x="588" y="266.6" text-anchor="start" fill="#000" font-size="10">30</text><text x="588" y="212.1" text-anchor="start" fill="#000" font-size="10">40</text><text x="588" y="157.6" text-anchor="start" fill="#000" font-size="10">50</text><text x="588" y="103.1" text-anchor="start" fill="#000" font-size="10">60</text><text x="104" y="651.3" text-anchor="end" fill="#000" font-size="10">0</text><text x="588" y="651.3" text-anchor="start" fill="#000" font-size="10">0</text><text x="104" y="628.8" text-anchor="end" fill="#000" font-size="10">50</text><text x="588" y="628.8" text-anchor="start" fill="#000" font-size="10">5</text><text x="104" y="606.4" text-anchor="end" fill="#000" font-size="10">100</text><text x="588" y="606.4" text-anchor="start" fill="#000" font-size="10">10</text><text x="104" y="583.9" text-anchor="end" fill="#000" font-size="10">150</text><text x="588" y="583.9" text-anchor="start" fill="#000" font-size="10">15</text><text x="104" y="561.4" text-anchor="end" fill="#000" font-size="10">200</text><text x="588" y="561.4" text-anchor="start" fill="#000" font-size="10">20</text><text x="104" y="539.0" text-anchor="end" fill="#000" font-size="10">250</text><text x="588" y="539.0" text-anchor="start" fill="#000" font-size="10">25</text><text x="104" y="516.5" text-anchor="end" fill="#000" font-size="10">300</text><text x="588" y="516.5" text-anchor="start" fill="#000" font-size="10">30</text><text x="104" y="494.0" text-anchor="end" fill="#000" font-size="10">350</text><text x="588" y="494.0" text-anchor="start" fill="#000" font-size="10">35</text><text x="111.5" y="440" text-anchor="middle" fill="#000" font-size="10">0</text><text x="139.4" y="440" text-anchor="middle" fill="#000" font-size="10">0.2</text><text x="167.4" y="440" text-anchor="middle" fill="#000" font-size="10">0.4</text><text x="195.3" y="440" text-anchor="middle" fill="#000" font-size="10">0.6</text><text x="223.2" y="440" text-anchor="middle" fill="#000" font-size="10">0.8</text><text x="251.2" y="440" text-anchor="middle" fill="#000" font-size="10">1.0</text><text x="279.1" y="440" text-anchor="middle" fill="#000" font-size="10">1.2</text><text x="307.0" y="440" text-anchor="middle" fill="#000" font-size="10">1.4</text><text x="334.9" y="440" text-anchor="middle" fill="#000" font-size="10">1.6</text><text x="362.9" y="440" text-anchor="middle" fill="#000" font-size="10">1.8</text><text x="390.8" y="440" text-anchor="middle" fill="#000" font-size="10">2.0</text><text x="418.7" y="440" text-anchor="middle" fill="#000" font-size="10">2.2</text><text x="446.7" y="440" text-anchor="middle" fill="#000" font-size="10">2.4</text><text x="474.6" y="440" text-anchor="middle" fill="#000" font-size="10">2.6</text><text x="502.5" y="440" text-anchor="middle" fill="#000" font-size="10">2.8</text><text x="540.5" y="440" text-anchor="start" fill="#000" font-size="10">Q [m³/h]</text><text x="137.2" y="130" text-anchor="start" fill="#000" font-size="10">100 %</text><text x="135.8" y="185" text-anchor="start" fill="#000" font-size="10">90 %</text><text x="132.9" y="235" text-anchor="start" fill="#000" font-size="10">80 %</text><text x="131.1" y="279" text-anchor="start" fill="#000" font-size="10">70 %</text><text x="129.7" y="317" text-anchor="start" fill="#000" font-size="10">60 %</text><text x="126.8" y="350.5" text-anchor="start" fill="#000" font-size="10">50 %</text><text x="123.8" y="377.5" text-anchor="start" fill="#000" font-size="10">40 %</text><text x="118.4" y="411" text-anchor="start" fill="#000" font-size="10">21 %</text><text x="479.5" y="491.5" text-anchor="start" fill="#154a8a" font-size="10.3">P1 (motor+freq.converter)</text><text x="531.5" y="533.5" text-anchor="start" fill="#154a8a" font-size="10">P2</text></g>
</svg>
</body></html>
